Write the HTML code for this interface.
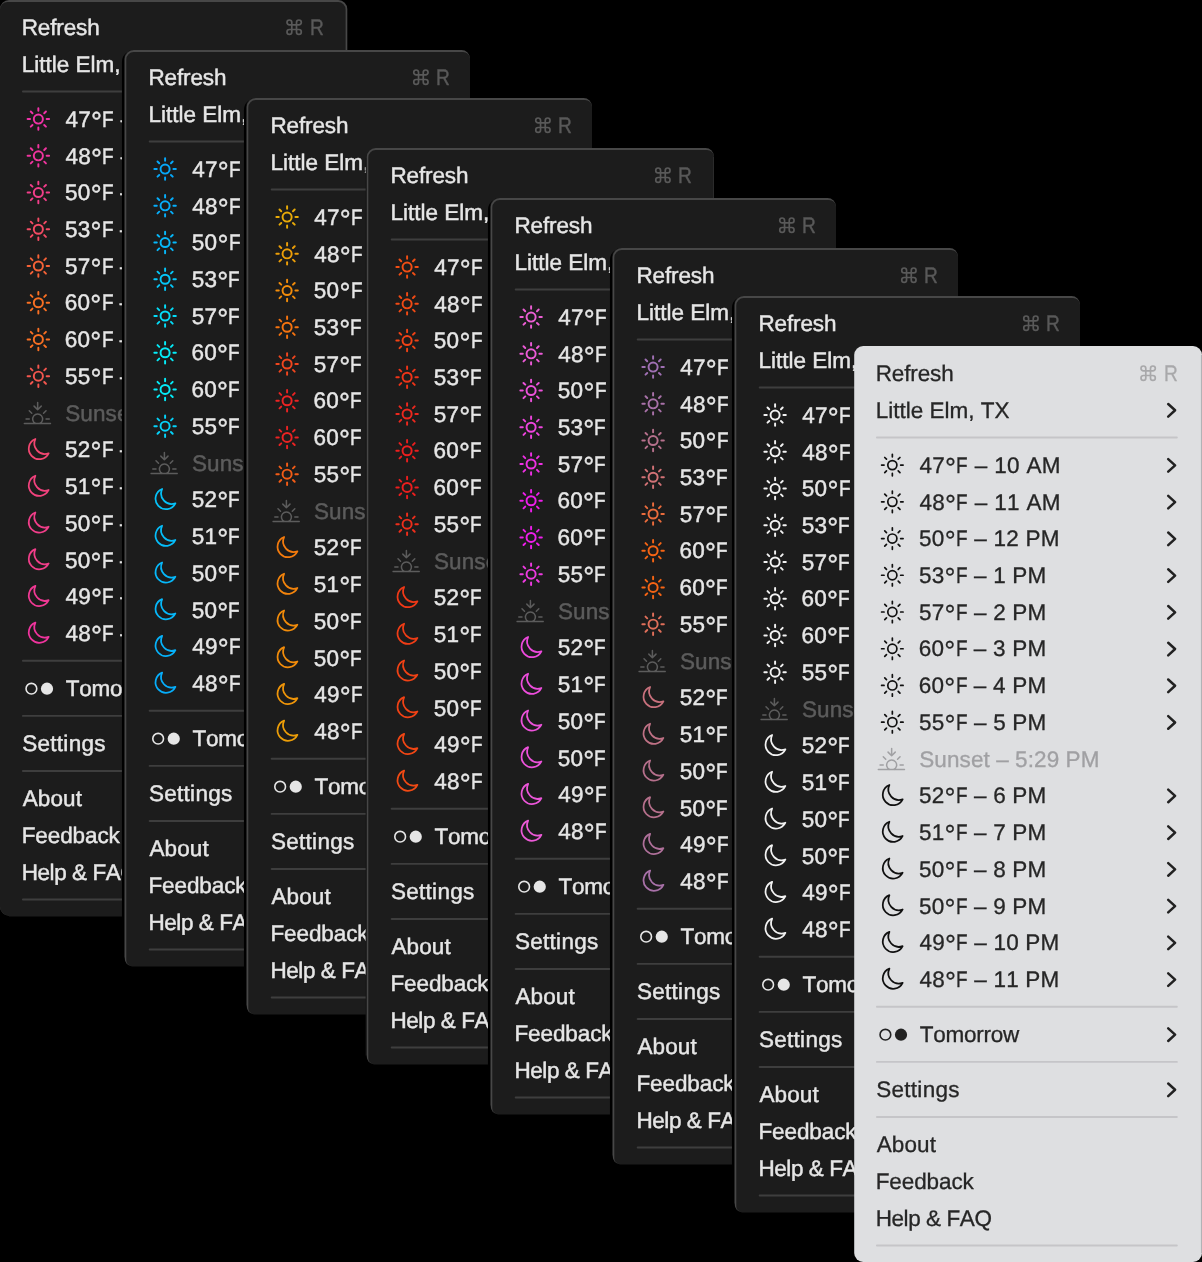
<!DOCTYPE html>
<html><head><meta charset="utf-8"><title>Menus</title>
<style>
html,body{margin:0;padding:0;background:#000;}
body{width:1202px;height:1262px;position:relative;overflow:hidden;font-family:"Liberation Sans",sans-serif;font-size:22.5px;}
.p{position:absolute;left:0;top:0;height:1262px;overflow:hidden;will-change:transform;}
.p svg{position:absolute;left:0;top:0;}
.t{position:absolute;white-space:pre;line-height:25px;height:25px;text-rendering:geometricPrecision;font-kerning:none;}
.dark .t{-webkit-text-stroke:0.45px currentColor;}
.light .t{-webkit-text-stroke:0.3px currentColor;}
.d{font-size:1.22em;line-height:0;position:relative;top:4px;}
.f{display:inline-block;transform:scaleX(0.84);transform-origin:0 50%;margin-right:-2.20px;}
</style></head><body>

<div class="p dark" style="width:348px">
<svg width="348" height="1262" viewBox="0 0 348 1262"><path d="M9.00 0H338.30A9.0 9.0 0 0 1 347.30 9.0V915.60H9.00A9.0 9.0 0 0 1 0.00 906.60V9.0A9.0 9.0 0 0 1 9.00 0Z" fill="#474747"/><path d="M7.50 2.0H338.20A7.4 7.4 0 0 1 345.60 9.40V916.60H9.00V915.60A9.0 9.0 0 0 1 0.00 906.60V9.5A7.5 7.5 0 0 1 7.50 2.0Z" fill="#1c1c1c"/><path d="M291.80 24.80H296.50V29.51H291.80ZM291.80 24.80H289.40A2.4 2.4 0 1 1 291.80 22.40ZM296.50 24.80V22.40A2.4 2.4 0 1 1 298.90 24.80ZM296.50 29.51H298.90A2.4 2.4 0 1 1 296.50 31.91ZM291.80 29.51V31.91A2.4 2.4 0 1 1 289.40 29.51Z" fill="none" stroke="#595959" stroke-width="1.7" stroke-linejoin="round"/><path d="M314.20 57.98L321.10 64.28L314.20 70.58" fill="none" stroke="#e6e6e6" stroke-width="2.5" stroke-linecap="round" stroke-linejoin="round"/><rect x="21.95" y="90.53" width="301.85" height="1.9" rx="0.9" fill="#3e3e3e"/><circle cx="38.35" cy="119.08" r="4.55" fill="none" stroke="#f032a8" stroke-width="1.95"/><path d="M46.65 119.08L49.10 119.08M44.22 124.95L45.95 126.68M38.35 127.38L38.35 129.83M32.48 124.95L30.75 126.68M30.05 119.08L27.60 119.08M32.48 113.21L30.75 111.48M38.35 110.78L38.35 108.33M44.22 113.21L45.95 111.48" stroke="#f032a8" stroke-width="1.95" stroke-linecap="round" fill="none"/><path d="M314.20 113.08L321.10 119.38L314.20 125.68" fill="none" stroke="#e6e6e6" stroke-width="2.5" stroke-linecap="round" stroke-linejoin="round"/><circle cx="38.35" cy="155.81" r="4.55" fill="none" stroke="#f0349e" stroke-width="1.95"/><path d="M46.65 155.81L49.10 155.81M44.22 161.68L45.95 163.41M38.35 164.11L38.35 166.56M32.48 161.68L30.75 163.41M30.05 155.81L27.60 155.81M32.48 149.94L30.75 148.21M38.35 147.51L38.35 145.06M44.22 149.94L45.95 148.21" stroke="#f0349e" stroke-width="1.95" stroke-linecap="round" fill="none"/><path d="M314.20 149.81L321.10 156.11L314.20 162.41" fill="none" stroke="#e6e6e6" stroke-width="2.5" stroke-linecap="round" stroke-linejoin="round"/><circle cx="38.35" cy="192.54" r="4.55" fill="none" stroke="#f23e8a" stroke-width="1.95"/><path d="M46.65 192.54L49.10 192.54M44.22 198.41L45.95 200.14M38.35 200.84L38.35 203.29M32.48 198.41L30.75 200.14M30.05 192.54L27.60 192.54M32.48 186.67L30.75 184.94M38.35 184.24L38.35 181.79M44.22 186.67L45.95 184.94" stroke="#f23e8a" stroke-width="1.95" stroke-linecap="round" fill="none"/><path d="M314.20 186.54L321.10 192.84L314.20 199.14" fill="none" stroke="#e6e6e6" stroke-width="2.5" stroke-linecap="round" stroke-linejoin="round"/><circle cx="38.35" cy="229.27" r="4.55" fill="none" stroke="#f34b64" stroke-width="1.95"/><path d="M46.65 229.27L49.10 229.27M44.22 235.14L45.95 236.87M38.35 237.57L38.35 240.02M32.48 235.14L30.75 236.87M30.05 229.27L27.60 229.27M32.48 223.40L30.75 221.67M38.35 220.97L38.35 218.52M44.22 223.40L45.95 221.67" stroke="#f34b64" stroke-width="1.95" stroke-linecap="round" fill="none"/><path d="M314.20 223.27L321.10 229.57L314.20 235.87" fill="none" stroke="#e6e6e6" stroke-width="2.5" stroke-linecap="round" stroke-linejoin="round"/><circle cx="38.35" cy="266.00" r="4.55" fill="none" stroke="#f66237" stroke-width="1.95"/><path d="M46.65 266.00L49.10 266.00M44.22 271.87L45.95 273.60M38.35 274.30L38.35 276.75M32.48 271.87L30.75 273.60M30.05 266.00L27.60 266.00M32.48 260.13L30.75 258.40M38.35 257.70L38.35 255.25M44.22 260.13L45.95 258.40" stroke="#f66237" stroke-width="1.95" stroke-linecap="round" fill="none"/><path d="M314.20 260.00L321.10 266.30L314.20 272.60" fill="none" stroke="#e6e6e6" stroke-width="2.5" stroke-linecap="round" stroke-linejoin="round"/><circle cx="38.35" cy="302.73" r="4.55" fill="none" stroke="#fa7023" stroke-width="1.95"/><path d="M46.65 302.73L49.10 302.73M44.22 308.60L45.95 310.33M38.35 311.03L38.35 313.48M32.48 308.60L30.75 310.33M30.05 302.73L27.60 302.73M32.48 296.86L30.75 295.13M38.35 294.43L38.35 291.98M44.22 296.86L45.95 295.13" stroke="#fa7023" stroke-width="1.95" stroke-linecap="round" fill="none"/><path d="M314.20 296.73L321.10 303.03L314.20 309.33" fill="none" stroke="#e6e6e6" stroke-width="2.5" stroke-linecap="round" stroke-linejoin="round"/><circle cx="38.35" cy="339.46" r="4.55" fill="none" stroke="#fa7023" stroke-width="1.95"/><path d="M46.65 339.46L49.10 339.46M44.22 345.33L45.95 347.06M38.35 347.76L38.35 350.21M32.48 345.33L30.75 347.06M30.05 339.46L27.60 339.46M32.48 333.59L30.75 331.86M38.35 331.16L38.35 328.71M44.22 333.59L45.95 331.86" stroke="#fa7023" stroke-width="1.95" stroke-linecap="round" fill="none"/><path d="M314.20 333.46L321.10 339.76L314.20 346.06" fill="none" stroke="#e6e6e6" stroke-width="2.5" stroke-linecap="round" stroke-linejoin="round"/><circle cx="38.35" cy="376.19" r="4.55" fill="none" stroke="#f4564e" stroke-width="1.95"/><path d="M46.65 376.19L49.10 376.19M44.22 382.06L45.95 383.79M38.35 384.49L38.35 386.94M32.48 382.06L30.75 383.79M30.05 376.19L27.60 376.19M32.48 370.32L30.75 368.59M38.35 367.89L38.35 365.44M44.22 370.32L45.95 368.59" stroke="#f4564e" stroke-width="1.95" stroke-linecap="round" fill="none"/><path d="M314.20 370.19L321.10 376.49L314.20 382.79" fill="none" stroke="#e6e6e6" stroke-width="2.5" stroke-linecap="round" stroke-linejoin="round"/><path d="M24.25 423.52H50.55" stroke="#5c5c5c" stroke-width="1.3" stroke-linecap="round"/><path d="M35.47 423.52A5.0 5.0 0 1 1 39.83 423.52" fill="none" stroke="#5c5c5c" stroke-width="1.5"/><path d="M26.05 418.92H29.25M46.05 418.92H49.25M29.25 410.82L31.75 413.32M46.05 410.82L43.55 413.32M37.65 402.62V409.72M34.05 406.12L37.65 409.72L41.25 406.12" fill="none" stroke="#5c5c5c" stroke-width="1.5" stroke-linecap="round" stroke-linejoin="round"/><path d="M35.40 438.99A10.45 10.45 0 1 0 48.65 453.26A10.5 10.5 0 0 1 35.40 438.99Z" fill="none" stroke="#f34771" stroke-width="1.75" stroke-linejoin="round"/><path d="M314.20 443.65L321.10 449.95L314.20 456.25" fill="none" stroke="#e6e6e6" stroke-width="2.5" stroke-linecap="round" stroke-linejoin="round"/><path d="M35.40 475.72A10.45 10.45 0 1 0 48.65 489.99A10.5 10.5 0 0 1 35.40 475.72Z" fill="none" stroke="#f2427d" stroke-width="1.75" stroke-linejoin="round"/><path d="M314.20 480.38L321.10 486.68L314.20 492.98" fill="none" stroke="#e6e6e6" stroke-width="2.5" stroke-linecap="round" stroke-linejoin="round"/><path d="M35.40 512.45A10.45 10.45 0 1 0 48.65 526.72A10.5 10.5 0 0 1 35.40 512.45Z" fill="none" stroke="#f23e8a" stroke-width="1.75" stroke-linejoin="round"/><path d="M314.20 517.11L321.10 523.41L314.20 529.71" fill="none" stroke="#e6e6e6" stroke-width="2.5" stroke-linecap="round" stroke-linejoin="round"/><path d="M35.40 549.18A10.45 10.45 0 1 0 48.65 563.45A10.5 10.5 0 0 1 35.40 549.18Z" fill="none" stroke="#f23e8a" stroke-width="1.75" stroke-linejoin="round"/><path d="M314.20 553.84L321.10 560.14L314.20 566.44" fill="none" stroke="#e6e6e6" stroke-width="2.5" stroke-linecap="round" stroke-linejoin="round"/><path d="M35.40 585.91A10.45 10.45 0 1 0 48.65 600.18A10.5 10.5 0 0 1 35.40 585.91Z" fill="none" stroke="#f13994" stroke-width="1.75" stroke-linejoin="round"/><path d="M314.20 590.57L321.10 596.87L314.20 603.17" fill="none" stroke="#e6e6e6" stroke-width="2.5" stroke-linecap="round" stroke-linejoin="round"/><path d="M35.40 622.64A10.45 10.45 0 1 0 48.65 636.91A10.5 10.5 0 0 1 35.40 622.64Z" fill="none" stroke="#f0349e" stroke-width="1.75" stroke-linejoin="round"/><path d="M314.20 627.30L321.10 633.60L314.20 639.90" fill="none" stroke="#e6e6e6" stroke-width="2.5" stroke-linecap="round" stroke-linejoin="round"/><rect x="21.95" y="659.85" width="301.85" height="1.9" rx="0.9" fill="#3e3e3e"/><circle cx="31.40" cy="688.70" r="5.35" fill="none" stroke="#e6e6e6" stroke-width="1.6"/><circle cx="47.00" cy="688.70" r="6.1" fill="#e6e6e6"/><path d="M314.20 682.40L321.10 688.70L314.20 695.00" fill="none" stroke="#e6e6e6" stroke-width="2.5" stroke-linecap="round" stroke-linejoin="round"/><rect x="21.95" y="714.94" width="301.85" height="1.9" rx="0.9" fill="#3e3e3e"/><path d="M314.20 737.49L321.10 743.79L314.20 750.09" fill="none" stroke="#e6e6e6" stroke-width="2.5" stroke-linecap="round" stroke-linejoin="round"/><rect x="21.95" y="770.04" width="301.85" height="1.9" rx="0.9" fill="#3e3e3e"/><rect x="21.95" y="898.59" width="301.85" height="1.9" rx="0.9" fill="#3e3e3e"/></svg>
<div class="t" style="left:21.65px;top:15.00px;color:#e6e6e6;letter-spacing:-0.113px">Refresh</div>
<div class="t" style="left:309.65px;top:15.00px;color:#595959;transform:scaleX(0.85);transform-origin:0 0">R</div>
<div class="t" style="left:21.65px;top:52.00px;color:#e6e6e6;letter-spacing:0.003px">Little Elm, TX</div>
<div class="t" style="left:65.48px;top:107.00px;color:#e6e6e6;letter-spacing:0.306px">47<span class="d">°</span><span class="f">F</span> – 10 AM</div>
<div class="t" style="left:65.48px;top:144.00px;color:#e6e6e6;letter-spacing:0.306px">48<span class="d">°</span><span class="f">F</span> – 11 AM</div>
<div class="t" style="left:65.10px;top:180.00px;color:#e6e6e6;letter-spacing:0.259px">50<span class="d">°</span><span class="f">F</span> – 12 PM</div>
<div class="t" style="left:65.10px;top:217.00px;color:#e6e6e6;letter-spacing:0.207px">53<span class="d">°</span><span class="f">F</span> – 1 PM</div>
<div class="t" style="left:65.10px;top:254.00px;color:#e6e6e6;letter-spacing:0.207px">57<span class="d">°</span><span class="f">F</span> – 2 PM</div>
<div class="t" style="left:64.86px;top:290.00px;color:#e6e6e6;letter-spacing:0.231px">60<span class="d">°</span><span class="f">F</span> – 3 PM</div>
<div class="t" style="left:64.86px;top:327.00px;color:#e6e6e6;letter-spacing:0.231px">60<span class="d">°</span><span class="f">F</span> – 4 PM</div>
<div class="t" style="left:65.10px;top:364.00px;color:#e6e6e6;letter-spacing:0.207px">55<span class="d">°</span><span class="f">F</span> – 5 PM</div>
<div class="t" style="left:65.28px;top:401.00px;color:#5c5c5c;letter-spacing:0.087px">Sunset – 5:29 PM</div>
<div class="t" style="left:65.10px;top:437.00px;color:#e6e6e6;letter-spacing:0.207px">52<span class="d">°</span><span class="f">F</span> – 6 PM</div>
<div class="t" style="left:65.10px;top:474.00px;color:#e6e6e6;letter-spacing:0.207px">51<span class="d">°</span><span class="f">F</span> – 7 PM</div>
<div class="t" style="left:65.10px;top:511.00px;color:#e6e6e6;letter-spacing:0.207px">50<span class="d">°</span><span class="f">F</span> – 8 PM</div>
<div class="t" style="left:65.10px;top:548.00px;color:#e6e6e6;letter-spacing:0.207px">50<span class="d">°</span><span class="f">F</span> – 9 PM</div>
<div class="t" style="left:65.48px;top:584.00px;color:#e6e6e6;letter-spacing:0.197px">49<span class="d">°</span><span class="f">F</span> – 10 PM</div>
<div class="t" style="left:65.48px;top:621.00px;color:#e6e6e6;letter-spacing:0.197px">48<span class="d">°</span><span class="f">F</span> – 11 PM</div>
<div class="t" style="left:65.74px;top:676.00px;color:#e6e6e6;letter-spacing:-0.252px">Tomorrow</div>
<div class="t" style="left:22.18px;top:731.00px;color:#e6e6e6;letter-spacing:0.291px">Settings</div>
<div class="t" style="left:22.76px;top:786.00px;color:#e6e6e6;letter-spacing:0.102px">About</div>
<div class="t" style="left:21.65px;top:823.00px;color:#e6e6e6;letter-spacing:-0.085px">Feedback</div>
<div class="t" style="left:21.65px;top:860.00px;color:#e6e6e6;letter-spacing:-0.413px">Help &amp; FAQ</div>
</div>
<div class="p dark" style="width:470px">
<svg width="470" height="1262" viewBox="0 0 470 1262"><path d="M136.80 50.30A11.85 11.85 0 0 0 121.95 61.80V960.60H124.00V59.00A9.0 9.0 0 0 1 133.80 50Z" fill="#000"/><rect x="124.00" y="61.00" width="1.4" height="896.60" fill="#1c1c1c"/><path d="M133.80 50H461.50A8.5 8.5 0 0 1 470.00 58.5V965.60H131.30A6.5 6.5 0 0 1 124.80 959.10V59.0A9.0 9.0 0 0 1 133.80 50Z" fill="#474747"/><path d="M133.70 52.0H463.00A7.0 7.0 0 0 1 470.00 58.50V966.60H131.30V965.60A5.0 5.0 0 0 1 126.30 960.60V59.4A7.4 7.4 0 0 1 133.70 52.0Z" fill="#1c1c1c"/><path d="M418.55 74.81H423.25V79.50H418.55ZM418.55 74.81H416.15A2.4 2.4 0 1 1 418.55 72.41ZM423.25 74.81V72.41A2.4 2.4 0 1 1 425.65 74.81ZM423.25 79.50H425.65A2.4 2.4 0 1 1 423.25 81.91ZM418.55 79.50V81.91A2.4 2.4 0 1 1 416.15 79.50Z" fill="none" stroke="#595959" stroke-width="1.7" stroke-linejoin="round"/><path d="M440.95 107.98L447.85 114.28L440.95 120.58" fill="none" stroke="#e6e6e6" stroke-width="2.5" stroke-linecap="round" stroke-linejoin="round"/><rect x="148.70" y="140.53" width="301.85" height="1.9" rx="0.9" fill="#3e3e3e"/><circle cx="165.10" cy="169.08" r="4.55" fill="none" stroke="#06a8fa" stroke-width="1.95"/><path d="M173.40 169.08L175.85 169.08M170.97 174.95L172.70 176.68M165.10 177.38L165.10 179.83M159.23 174.95L157.50 176.68M156.80 169.08L154.35 169.08M159.23 163.21L157.50 161.48M165.10 160.78L165.10 158.33M170.97 163.21L172.70 161.48" stroke="#06a8fa" stroke-width="1.95" stroke-linecap="round" fill="none"/><path d="M440.95 163.08L447.85 169.38L440.95 175.68" fill="none" stroke="#e6e6e6" stroke-width="2.5" stroke-linecap="round" stroke-linejoin="round"/><circle cx="165.10" cy="205.81" r="4.55" fill="none" stroke="#06adfa" stroke-width="1.95"/><path d="M173.40 205.81L175.85 205.81M170.97 211.68L172.70 213.41M165.10 214.11L165.10 216.56M159.23 211.68L157.50 213.41M156.80 205.81L154.35 205.81M159.23 199.94L157.50 198.21M165.10 197.51L165.10 195.06M170.97 199.94L172.70 198.21" stroke="#06adfa" stroke-width="1.95" stroke-linecap="round" fill="none"/><path d="M440.95 199.81L447.85 206.11L440.95 212.41" fill="none" stroke="#e6e6e6" stroke-width="2.5" stroke-linecap="round" stroke-linejoin="round"/><circle cx="165.10" cy="242.54" r="4.55" fill="none" stroke="#06b8fa" stroke-width="1.95"/><path d="M173.40 242.54L175.85 242.54M170.97 248.41L172.70 250.14M165.10 250.84L165.10 253.29M159.23 248.41L157.50 250.14M156.80 242.54L154.35 242.54M159.23 236.67L157.50 234.94M165.10 234.24L165.10 231.79M170.97 236.67L172.70 234.94" stroke="#06b8fa" stroke-width="1.95" stroke-linecap="round" fill="none"/><path d="M440.95 236.54L447.85 242.84L440.95 249.14" fill="none" stroke="#e6e6e6" stroke-width="2.5" stroke-linecap="round" stroke-linejoin="round"/><circle cx="165.10" cy="279.27" r="4.55" fill="none" stroke="#05c7f9" stroke-width="1.95"/><path d="M173.40 279.27L175.85 279.27M170.97 285.14L172.70 286.87M165.10 287.57L165.10 290.02M159.23 285.14L157.50 286.87M156.80 279.27L154.35 279.27M159.23 273.40L157.50 271.67M165.10 270.97L165.10 268.52M170.97 273.40L172.70 271.67" stroke="#05c7f9" stroke-width="1.95" stroke-linecap="round" fill="none"/><path d="M440.95 273.27L447.85 279.57L440.95 285.87" fill="none" stroke="#e6e6e6" stroke-width="2.5" stroke-linecap="round" stroke-linejoin="round"/><circle cx="165.10" cy="316.00" r="4.55" fill="none" stroke="#04dcf8" stroke-width="1.95"/><path d="M173.40 316.00L175.85 316.00M170.97 321.87L172.70 323.60M165.10 324.30L165.10 326.75M159.23 321.87L157.50 323.60M156.80 316.00L154.35 316.00M159.23 310.13L157.50 308.40M165.10 307.70L165.10 305.25M170.97 310.13L172.70 308.40" stroke="#04dcf8" stroke-width="1.95" stroke-linecap="round" fill="none"/><path d="M440.95 310.00L447.85 316.30L440.95 322.60" fill="none" stroke="#e6e6e6" stroke-width="2.5" stroke-linecap="round" stroke-linejoin="round"/><circle cx="165.10" cy="352.73" r="4.55" fill="none" stroke="#04ecf8" stroke-width="1.95"/><path d="M173.40 352.73L175.85 352.73M170.97 358.60L172.70 360.33M165.10 361.03L165.10 363.48M159.23 358.60L157.50 360.33M156.80 352.73L154.35 352.73M159.23 346.86L157.50 345.13M165.10 344.43L165.10 341.98M170.97 346.86L172.70 345.13" stroke="#04ecf8" stroke-width="1.95" stroke-linecap="round" fill="none"/><path d="M440.95 346.73L447.85 353.03L440.95 359.33" fill="none" stroke="#e6e6e6" stroke-width="2.5" stroke-linecap="round" stroke-linejoin="round"/><circle cx="165.10" cy="389.46" r="4.55" fill="none" stroke="#04ecf8" stroke-width="1.95"/><path d="M173.40 389.46L175.85 389.46M170.97 395.33L172.70 397.06M165.10 397.76L165.10 400.21M159.23 395.33L157.50 397.06M156.80 389.46L154.35 389.46M159.23 383.59L157.50 381.86M165.10 381.16L165.10 378.71M170.97 383.59L172.70 381.86" stroke="#04ecf8" stroke-width="1.95" stroke-linecap="round" fill="none"/><path d="M440.95 383.46L447.85 389.76L440.95 396.06" fill="none" stroke="#e6e6e6" stroke-width="2.5" stroke-linecap="round" stroke-linejoin="round"/><circle cx="165.10" cy="426.19" r="4.55" fill="none" stroke="#05d2f9" stroke-width="1.95"/><path d="M173.40 426.19L175.85 426.19M170.97 432.06L172.70 433.79M165.10 434.49L165.10 436.94M159.23 432.06L157.50 433.79M156.80 426.19L154.35 426.19M159.23 420.32L157.50 418.59M165.10 417.89L165.10 415.44M170.97 420.32L172.70 418.59" stroke="#05d2f9" stroke-width="1.95" stroke-linecap="round" fill="none"/><path d="M440.95 420.19L447.85 426.49L440.95 432.79" fill="none" stroke="#e6e6e6" stroke-width="2.5" stroke-linecap="round" stroke-linejoin="round"/><path d="M151.00 473.52H177.30" stroke="#5c5c5c" stroke-width="1.3" stroke-linecap="round"/><path d="M162.22 473.52A5.0 5.0 0 1 1 166.58 473.52" fill="none" stroke="#5c5c5c" stroke-width="1.5"/><path d="M152.80 468.92H156.00M172.80 468.92H176.00M156.00 460.82L158.50 463.32M172.80 460.82L170.30 463.32M164.40 452.62V459.72M160.80 456.12L164.40 459.72L168.00 456.12" fill="none" stroke="#5c5c5c" stroke-width="1.5" stroke-linecap="round" stroke-linejoin="round"/><path d="M162.15 488.99A10.45 10.45 0 1 0 175.40 503.26A10.5 10.5 0 0 1 162.15 488.99Z" fill="none" stroke="#05c2f9" stroke-width="1.75" stroke-linejoin="round"/><path d="M440.95 493.65L447.85 499.95L440.95 506.25" fill="none" stroke="#e6e6e6" stroke-width="2.5" stroke-linecap="round" stroke-linejoin="round"/><path d="M162.15 525.72A10.45 10.45 0 1 0 175.40 539.99A10.5 10.5 0 0 1 162.15 525.72Z" fill="none" stroke="#05bdf9" stroke-width="1.75" stroke-linejoin="round"/><path d="M440.95 530.38L447.85 536.68L440.95 542.98" fill="none" stroke="#e6e6e6" stroke-width="2.5" stroke-linecap="round" stroke-linejoin="round"/><path d="M162.15 562.45A10.45 10.45 0 1 0 175.40 576.72A10.5 10.5 0 0 1 162.15 562.45Z" fill="none" stroke="#06b8fa" stroke-width="1.75" stroke-linejoin="round"/><path d="M440.95 567.11L447.85 573.41L440.95 579.71" fill="none" stroke="#e6e6e6" stroke-width="2.5" stroke-linecap="round" stroke-linejoin="round"/><path d="M162.15 599.18A10.45 10.45 0 1 0 175.40 613.45A10.5 10.5 0 0 1 162.15 599.18Z" fill="none" stroke="#06b8fa" stroke-width="1.75" stroke-linejoin="round"/><path d="M440.95 603.84L447.85 610.14L440.95 616.44" fill="none" stroke="#e6e6e6" stroke-width="2.5" stroke-linecap="round" stroke-linejoin="round"/><path d="M162.15 635.91A10.45 10.45 0 1 0 175.40 650.18A10.5 10.5 0 0 1 162.15 635.91Z" fill="none" stroke="#06b2fa" stroke-width="1.75" stroke-linejoin="round"/><path d="M440.95 640.57L447.85 646.87L440.95 653.17" fill="none" stroke="#e6e6e6" stroke-width="2.5" stroke-linecap="round" stroke-linejoin="round"/><path d="M162.15 672.64A10.45 10.45 0 1 0 175.40 686.91A10.5 10.5 0 0 1 162.15 672.64Z" fill="none" stroke="#06adfa" stroke-width="1.75" stroke-linejoin="round"/><path d="M440.95 677.30L447.85 683.60L440.95 689.90" fill="none" stroke="#e6e6e6" stroke-width="2.5" stroke-linecap="round" stroke-linejoin="round"/><rect x="148.70" y="709.85" width="301.85" height="1.9" rx="0.9" fill="#3e3e3e"/><circle cx="158.15" cy="738.70" r="5.35" fill="none" stroke="#e6e6e6" stroke-width="1.6"/><circle cx="173.75" cy="738.70" r="6.1" fill="#e6e6e6"/><path d="M440.95 732.40L447.85 738.70L440.95 745.00" fill="none" stroke="#e6e6e6" stroke-width="2.5" stroke-linecap="round" stroke-linejoin="round"/><rect x="148.70" y="764.94" width="301.85" height="1.9" rx="0.9" fill="#3e3e3e"/><path d="M440.95 787.49L447.85 793.79L440.95 800.09" fill="none" stroke="#e6e6e6" stroke-width="2.5" stroke-linecap="round" stroke-linejoin="round"/><rect x="148.70" y="820.04" width="301.85" height="1.9" rx="0.9" fill="#3e3e3e"/><rect x="148.70" y="948.59" width="301.85" height="1.9" rx="0.9" fill="#3e3e3e"/></svg>
<div class="t" style="left:148.40px;top:65.00px;color:#e6e6e6;letter-spacing:-0.113px">Refresh</div>
<div class="t" style="left:436.40px;top:65.00px;color:#595959;transform:scaleX(0.85);transform-origin:0 0">R</div>
<div class="t" style="left:148.40px;top:102.00px;color:#e6e6e6;letter-spacing:0.003px">Little Elm, TX</div>
<div class="t" style="left:192.23px;top:157.00px;color:#e6e6e6;letter-spacing:0.306px">47<span class="d">°</span><span class="f">F</span> – 10 AM</div>
<div class="t" style="left:192.23px;top:194.00px;color:#e6e6e6;letter-spacing:0.306px">48<span class="d">°</span><span class="f">F</span> – 11 AM</div>
<div class="t" style="left:191.85px;top:230.00px;color:#e6e6e6;letter-spacing:0.259px">50<span class="d">°</span><span class="f">F</span> – 12 PM</div>
<div class="t" style="left:191.85px;top:267.00px;color:#e6e6e6;letter-spacing:0.207px">53<span class="d">°</span><span class="f">F</span> – 1 PM</div>
<div class="t" style="left:191.85px;top:304.00px;color:#e6e6e6;letter-spacing:0.207px">57<span class="d">°</span><span class="f">F</span> – 2 PM</div>
<div class="t" style="left:191.61px;top:340.00px;color:#e6e6e6;letter-spacing:0.231px">60<span class="d">°</span><span class="f">F</span> – 3 PM</div>
<div class="t" style="left:191.61px;top:377.00px;color:#e6e6e6;letter-spacing:0.231px">60<span class="d">°</span><span class="f">F</span> – 4 PM</div>
<div class="t" style="left:191.85px;top:414.00px;color:#e6e6e6;letter-spacing:0.207px">55<span class="d">°</span><span class="f">F</span> – 5 PM</div>
<div class="t" style="left:192.03px;top:451.00px;color:#5c5c5c;letter-spacing:0.087px">Sunset – 5:29 PM</div>
<div class="t" style="left:191.85px;top:487.00px;color:#e6e6e6;letter-spacing:0.207px">52<span class="d">°</span><span class="f">F</span> – 6 PM</div>
<div class="t" style="left:191.85px;top:524.00px;color:#e6e6e6;letter-spacing:0.207px">51<span class="d">°</span><span class="f">F</span> – 7 PM</div>
<div class="t" style="left:191.85px;top:561.00px;color:#e6e6e6;letter-spacing:0.207px">50<span class="d">°</span><span class="f">F</span> – 8 PM</div>
<div class="t" style="left:191.85px;top:598.00px;color:#e6e6e6;letter-spacing:0.207px">50<span class="d">°</span><span class="f">F</span> – 9 PM</div>
<div class="t" style="left:192.23px;top:634.00px;color:#e6e6e6;letter-spacing:0.197px">49<span class="d">°</span><span class="f">F</span> – 10 PM</div>
<div class="t" style="left:192.23px;top:671.00px;color:#e6e6e6;letter-spacing:0.197px">48<span class="d">°</span><span class="f">F</span> – 11 PM</div>
<div class="t" style="left:192.49px;top:726.00px;color:#e6e6e6;letter-spacing:-0.252px">Tomorrow</div>
<div class="t" style="left:148.93px;top:781.00px;color:#e6e6e6;letter-spacing:0.291px">Settings</div>
<div class="t" style="left:149.51px;top:836.00px;color:#e6e6e6;letter-spacing:0.102px">About</div>
<div class="t" style="left:148.40px;top:873.00px;color:#e6e6e6;letter-spacing:-0.085px">Feedback</div>
<div class="t" style="left:148.40px;top:910.00px;color:#e6e6e6;letter-spacing:-0.413px">Help &amp; FAQ</div>
</div>
<div class="p dark" style="width:592px">
<svg width="592" height="1262" viewBox="0 0 592 1262"><path d="M258.80 98.30A11.85 11.85 0 0 0 243.95 109.80V1008.60H246.00V107.00A9.0 9.0 0 0 1 255.80 98Z" fill="#000"/><rect x="246.00" y="109.00" width="1.4" height="896.60" fill="#1c1c1c"/><path d="M255.80 98H583.50A8.5 8.5 0 0 1 592.00 106.5V1013.60H253.30A6.5 6.5 0 0 1 246.80 1007.10V107.0A9.0 9.0 0 0 1 255.80 98Z" fill="#474747"/><path d="M255.70 100.0H585.00A7.0 7.0 0 0 1 592.00 106.50V1014.60H253.30V1013.60A5.0 5.0 0 0 1 248.30 1008.60V107.4A7.4 7.4 0 0 1 255.70 100.0Z" fill="#1c1c1c"/><path d="M540.55 122.81H545.25V127.50H540.55ZM540.55 122.81H538.15A2.4 2.4 0 1 1 540.55 120.41ZM545.25 122.81V120.41A2.4 2.4 0 1 1 547.65 122.81ZM545.25 127.50H547.65A2.4 2.4 0 1 1 545.25 129.91ZM540.55 127.50V129.91A2.4 2.4 0 1 1 538.15 127.50Z" fill="none" stroke="#595959" stroke-width="1.7" stroke-linejoin="round"/><path d="M562.95 155.99L569.85 162.29L562.95 168.59" fill="none" stroke="#e6e6e6" stroke-width="2.5" stroke-linecap="round" stroke-linejoin="round"/><rect x="270.70" y="188.53" width="301.85" height="1.9" rx="0.9" fill="#3e3e3e"/><circle cx="287.10" cy="217.08" r="4.55" fill="none" stroke="#e8aa08" stroke-width="1.95"/><path d="M295.40 217.08L297.85 217.08M292.97 222.95L294.70 224.68M287.10 225.38L287.10 227.83M281.23 222.95L279.50 224.68M278.80 217.08L276.35 217.08M281.23 211.21L279.50 209.48M287.10 208.78L287.10 206.33M292.97 211.21L294.70 209.48" stroke="#e8aa08" stroke-width="1.95" stroke-linecap="round" fill="none"/><path d="M562.95 211.08L569.85 217.38L562.95 223.68" fill="none" stroke="#e6e6e6" stroke-width="2.5" stroke-linecap="round" stroke-linejoin="round"/><circle cx="287.10" cy="253.81" r="4.55" fill="none" stroke="#ec9e08" stroke-width="1.95"/><path d="M295.40 253.81L297.85 253.81M292.97 259.68L294.70 261.41M287.10 262.11L287.10 264.56M281.23 259.68L279.50 261.41M278.80 253.81L276.35 253.81M281.23 247.94L279.50 246.21M287.10 245.51L287.10 243.06M292.97 247.94L294.70 246.21" stroke="#ec9e08" stroke-width="1.95" stroke-linecap="round" fill="none"/><path d="M562.95 247.81L569.85 254.11L562.95 260.41" fill="none" stroke="#e6e6e6" stroke-width="2.5" stroke-linecap="round" stroke-linejoin="round"/><circle cx="287.10" cy="290.54" r="4.55" fill="none" stroke="#f28c0a" stroke-width="1.95"/><path d="M295.40 290.54L297.85 290.54M292.97 296.41L294.70 298.14M287.10 298.84L287.10 301.29M281.23 296.41L279.50 298.14M278.80 290.54L276.35 290.54M281.23 284.67L279.50 282.94M287.10 282.24L287.10 279.79M292.97 284.67L294.70 282.94" stroke="#f28c0a" stroke-width="1.95" stroke-linecap="round" fill="none"/><path d="M562.95 284.54L569.85 290.84L562.95 297.14" fill="none" stroke="#e6e6e6" stroke-width="2.5" stroke-linecap="round" stroke-linejoin="round"/><circle cx="287.10" cy="327.27" r="4.55" fill="none" stroke="#f5730f" stroke-width="1.95"/><path d="M295.40 327.27L297.85 327.27M292.97 333.14L294.70 334.87M287.10 335.57L287.10 338.02M281.23 333.14L279.50 334.87M278.80 327.27L276.35 327.27M281.23 321.40L279.50 319.67M287.10 318.97L287.10 316.52M292.97 321.40L294.70 319.67" stroke="#f5730f" stroke-width="1.95" stroke-linecap="round" fill="none"/><path d="M562.95 321.27L569.85 327.57L562.95 333.87" fill="none" stroke="#e6e6e6" stroke-width="2.5" stroke-linecap="round" stroke-linejoin="round"/><circle cx="287.10" cy="364.00" r="4.55" fill="none" stroke="#f0461e" stroke-width="1.95"/><path d="M295.40 364.00L297.85 364.00M292.97 369.87L294.70 371.60M287.10 372.30L287.10 374.75M281.23 369.87L279.50 371.60M278.80 364.00L276.35 364.00M281.23 358.13L279.50 356.40M287.10 355.70L287.10 353.25M292.97 358.13L294.70 356.40" stroke="#f0461e" stroke-width="1.95" stroke-linecap="round" fill="none"/><path d="M562.95 358.00L569.85 364.30L562.95 370.60" fill="none" stroke="#e6e6e6" stroke-width="2.5" stroke-linecap="round" stroke-linejoin="round"/><circle cx="287.10" cy="400.73" r="4.55" fill="none" stroke="#eb2323" stroke-width="1.95"/><path d="M295.40 400.73L297.85 400.73M292.97 406.60L294.70 408.33M287.10 409.03L287.10 411.48M281.23 406.60L279.50 408.33M278.80 400.73L276.35 400.73M281.23 394.86L279.50 393.13M287.10 392.43L287.10 389.98M292.97 394.86L294.70 393.13" stroke="#eb2323" stroke-width="1.95" stroke-linecap="round" fill="none"/><path d="M562.95 394.73L569.85 401.03L562.95 407.33" fill="none" stroke="#e6e6e6" stroke-width="2.5" stroke-linecap="round" stroke-linejoin="round"/><circle cx="287.10" cy="437.46" r="4.55" fill="none" stroke="#eb2323" stroke-width="1.95"/><path d="M295.40 437.46L297.85 437.46M292.97 443.33L294.70 445.06M287.10 445.76L287.10 448.21M281.23 443.33L279.50 445.06M278.80 437.46L276.35 437.46M281.23 431.59L279.50 429.86M287.10 429.16L287.10 426.71M292.97 431.59L294.70 429.86" stroke="#eb2323" stroke-width="1.95" stroke-linecap="round" fill="none"/><path d="M562.95 431.46L569.85 437.76L562.95 444.06" fill="none" stroke="#e6e6e6" stroke-width="2.5" stroke-linecap="round" stroke-linejoin="round"/><circle cx="287.10" cy="474.19" r="4.55" fill="none" stroke="#f35c16" stroke-width="1.95"/><path d="M295.40 474.19L297.85 474.19M292.97 480.06L294.70 481.79M287.10 482.49L287.10 484.94M281.23 480.06L279.50 481.79M278.80 474.19L276.35 474.19M281.23 468.32L279.50 466.59M287.10 465.89L287.10 463.44M292.97 468.32L294.70 466.59" stroke="#f35c16" stroke-width="1.95" stroke-linecap="round" fill="none"/><path d="M562.95 468.19L569.85 474.49L562.95 480.79" fill="none" stroke="#e6e6e6" stroke-width="2.5" stroke-linecap="round" stroke-linejoin="round"/><path d="M273.00 521.52H299.30" stroke="#5c5c5c" stroke-width="1.3" stroke-linecap="round"/><path d="M284.22 521.52A5.0 5.0 0 1 1 288.58 521.52" fill="none" stroke="#5c5c5c" stroke-width="1.5"/><path d="M274.80 516.92H278.00M294.80 516.92H298.00M278.00 508.82L280.50 511.32M294.80 508.82L292.30 511.32M286.40 500.62V507.72M282.80 504.12L286.40 507.72L290.00 504.12" fill="none" stroke="#5c5c5c" stroke-width="1.5" stroke-linecap="round" stroke-linejoin="round"/><path d="M284.15 536.99A10.45 10.45 0 1 0 297.40 551.26A10.5 10.5 0 0 1 284.15 536.99Z" fill="none" stroke="#f47b0d" stroke-width="1.75" stroke-linejoin="round"/><path d="M562.95 541.65L569.85 547.95L562.95 554.25" fill="none" stroke="#e6e6e6" stroke-width="2.5" stroke-linecap="round" stroke-linejoin="round"/><path d="M284.15 573.72A10.45 10.45 0 1 0 297.40 587.99A10.5 10.5 0 0 1 284.15 573.72Z" fill="none" stroke="#f3840c" stroke-width="1.75" stroke-linejoin="round"/><path d="M562.95 578.38L569.85 584.68L562.95 590.98" fill="none" stroke="#e6e6e6" stroke-width="2.5" stroke-linecap="round" stroke-linejoin="round"/><path d="M284.15 610.45A10.45 10.45 0 1 0 297.40 624.72A10.5 10.5 0 0 1 284.15 610.45Z" fill="none" stroke="#f28c0a" stroke-width="1.75" stroke-linejoin="round"/><path d="M562.95 615.11L569.85 621.41L562.95 627.71" fill="none" stroke="#e6e6e6" stroke-width="2.5" stroke-linecap="round" stroke-linejoin="round"/><path d="M284.15 647.18A10.45 10.45 0 1 0 297.40 661.45A10.5 10.5 0 0 1 284.15 647.18Z" fill="none" stroke="#f28c0a" stroke-width="1.75" stroke-linejoin="round"/><path d="M562.95 651.84L569.85 658.14L562.95 664.44" fill="none" stroke="#e6e6e6" stroke-width="2.5" stroke-linecap="round" stroke-linejoin="round"/><path d="M284.15 683.91A10.45 10.45 0 1 0 297.40 698.18A10.5 10.5 0 0 1 284.15 683.91Z" fill="none" stroke="#ef9509" stroke-width="1.75" stroke-linejoin="round"/><path d="M562.95 688.57L569.85 694.87L562.95 701.17" fill="none" stroke="#e6e6e6" stroke-width="2.5" stroke-linecap="round" stroke-linejoin="round"/><path d="M284.15 720.64A10.45 10.45 0 1 0 297.40 734.91A10.5 10.5 0 0 1 284.15 720.64Z" fill="none" stroke="#ec9e08" stroke-width="1.75" stroke-linejoin="round"/><path d="M562.95 725.30L569.85 731.60L562.95 737.90" fill="none" stroke="#e6e6e6" stroke-width="2.5" stroke-linecap="round" stroke-linejoin="round"/><rect x="270.70" y="757.85" width="301.85" height="1.9" rx="0.9" fill="#3e3e3e"/><circle cx="280.15" cy="786.70" r="5.35" fill="none" stroke="#e6e6e6" stroke-width="1.6"/><circle cx="295.75" cy="786.70" r="6.1" fill="#e6e6e6"/><path d="M562.95 780.40L569.85 786.70L562.95 793.00" fill="none" stroke="#e6e6e6" stroke-width="2.5" stroke-linecap="round" stroke-linejoin="round"/><rect x="270.70" y="812.94" width="301.85" height="1.9" rx="0.9" fill="#3e3e3e"/><path d="M562.95 835.49L569.85 841.79L562.95 848.09" fill="none" stroke="#e6e6e6" stroke-width="2.5" stroke-linecap="round" stroke-linejoin="round"/><rect x="270.70" y="868.04" width="301.85" height="1.9" rx="0.9" fill="#3e3e3e"/><rect x="270.70" y="996.59" width="301.85" height="1.9" rx="0.9" fill="#3e3e3e"/></svg>
<div class="t" style="left:270.40px;top:113.00px;color:#e6e6e6;letter-spacing:-0.113px">Refresh</div>
<div class="t" style="left:558.40px;top:113.00px;color:#595959;transform:scaleX(0.85);transform-origin:0 0">R</div>
<div class="t" style="left:270.40px;top:150.00px;color:#e6e6e6;letter-spacing:0.003px">Little Elm, TX</div>
<div class="t" style="left:314.23px;top:205.00px;color:#e6e6e6;letter-spacing:0.306px">47<span class="d">°</span><span class="f">F</span> – 10 AM</div>
<div class="t" style="left:314.23px;top:242.00px;color:#e6e6e6;letter-spacing:0.306px">48<span class="d">°</span><span class="f">F</span> – 11 AM</div>
<div class="t" style="left:313.85px;top:278.00px;color:#e6e6e6;letter-spacing:0.259px">50<span class="d">°</span><span class="f">F</span> – 12 PM</div>
<div class="t" style="left:313.85px;top:315.00px;color:#e6e6e6;letter-spacing:0.207px">53<span class="d">°</span><span class="f">F</span> – 1 PM</div>
<div class="t" style="left:313.85px;top:352.00px;color:#e6e6e6;letter-spacing:0.207px">57<span class="d">°</span><span class="f">F</span> – 2 PM</div>
<div class="t" style="left:313.61px;top:388.00px;color:#e6e6e6;letter-spacing:0.231px">60<span class="d">°</span><span class="f">F</span> – 3 PM</div>
<div class="t" style="left:313.61px;top:425.00px;color:#e6e6e6;letter-spacing:0.231px">60<span class="d">°</span><span class="f">F</span> – 4 PM</div>
<div class="t" style="left:313.85px;top:462.00px;color:#e6e6e6;letter-spacing:0.207px">55<span class="d">°</span><span class="f">F</span> – 5 PM</div>
<div class="t" style="left:314.03px;top:499.00px;color:#5c5c5c;letter-spacing:0.087px">Sunset – 5:29 PM</div>
<div class="t" style="left:313.85px;top:535.00px;color:#e6e6e6;letter-spacing:0.207px">52<span class="d">°</span><span class="f">F</span> – 6 PM</div>
<div class="t" style="left:313.85px;top:572.00px;color:#e6e6e6;letter-spacing:0.207px">51<span class="d">°</span><span class="f">F</span> – 7 PM</div>
<div class="t" style="left:313.85px;top:609.00px;color:#e6e6e6;letter-spacing:0.207px">50<span class="d">°</span><span class="f">F</span> – 8 PM</div>
<div class="t" style="left:313.85px;top:646.00px;color:#e6e6e6;letter-spacing:0.207px">50<span class="d">°</span><span class="f">F</span> – 9 PM</div>
<div class="t" style="left:314.23px;top:682.00px;color:#e6e6e6;letter-spacing:0.197px">49<span class="d">°</span><span class="f">F</span> – 10 PM</div>
<div class="t" style="left:314.23px;top:719.00px;color:#e6e6e6;letter-spacing:0.197px">48<span class="d">°</span><span class="f">F</span> – 11 PM</div>
<div class="t" style="left:314.49px;top:774.00px;color:#e6e6e6;letter-spacing:-0.252px">Tomorrow</div>
<div class="t" style="left:270.93px;top:829.00px;color:#e6e6e6;letter-spacing:0.291px">Settings</div>
<div class="t" style="left:271.51px;top:884.00px;color:#e6e6e6;letter-spacing:0.102px">About</div>
<div class="t" style="left:270.40px;top:921.00px;color:#e6e6e6;letter-spacing:-0.085px">Feedback</div>
<div class="t" style="left:270.40px;top:958.00px;color:#e6e6e6;letter-spacing:-0.413px">Help &amp; FAQ</div>
</div>
<div class="p dark" style="width:714px">
<svg width="714" height="1262" viewBox="0 0 714 1262"><rect x="365.60" y="158.00" width="1.4" height="897.60" fill="#171717"/><path d="M375.80 148H705.50A8.5 8.5 0 0 1 714.00 156.5V1063.60H373.30A6.5 6.5 0 0 1 366.80 1057.10V157.0A9.0 9.0 0 0 1 375.80 148Z" fill="#474747"/><path d="M375.70 150.0H707.00A7.0 7.0 0 0 1 714.00 156.50V1064.60H373.30V1063.60A5.0 5.0 0 0 1 368.30 1058.60V157.4A7.4 7.4 0 0 1 375.70 150.0Z" fill="#1c1c1c"/><path d="M713.50 157V208" stroke="#2b2b2b" stroke-width="1"/><path d="M660.55 172.81H665.25V177.50H660.55ZM660.55 172.81H658.15A2.4 2.4 0 1 1 660.55 170.41ZM665.25 172.81V170.41A2.4 2.4 0 1 1 667.65 172.81ZM665.25 177.50H667.65A2.4 2.4 0 1 1 665.25 179.91ZM660.55 177.50V179.91A2.4 2.4 0 1 1 658.15 177.50Z" fill="none" stroke="#595959" stroke-width="1.7" stroke-linejoin="round"/><path d="M682.95 205.98L689.85 212.28L682.95 218.59" fill="none" stroke="#e6e6e6" stroke-width="2.5" stroke-linecap="round" stroke-linejoin="round"/><rect x="390.70" y="238.53" width="301.85" height="1.9" rx="0.9" fill="#3e3e3e"/><circle cx="407.10" cy="267.08" r="4.55" fill="none" stroke="#f14e14" stroke-width="1.95"/><path d="M415.40 267.08L417.85 267.08M412.97 272.95L414.70 274.68M407.10 275.38L407.10 277.83M401.23 272.95L399.50 274.68M398.80 267.08L396.35 267.08M401.23 261.21L399.50 259.48M407.10 258.78L407.10 256.33M412.97 261.21L414.70 259.48" stroke="#f14e14" stroke-width="1.95" stroke-linecap="round" fill="none"/><path d="M682.95 261.08L689.85 267.38L682.95 273.68" fill="none" stroke="#e6e6e6" stroke-width="2.5" stroke-linecap="round" stroke-linejoin="round"/><circle cx="407.10" cy="303.81" r="4.55" fill="none" stroke="#f14a14" stroke-width="1.95"/><path d="M415.40 303.81L417.85 303.81M412.97 309.68L414.70 311.41M407.10 312.11L407.10 314.56M401.23 309.68L399.50 311.41M398.80 303.81L396.35 303.81M401.23 297.94L399.50 296.21M407.10 295.51L407.10 293.06M412.97 297.94L414.70 296.21" stroke="#f14a14" stroke-width="1.95" stroke-linecap="round" fill="none"/><path d="M682.95 297.81L689.85 304.11L682.95 310.41" fill="none" stroke="#e6e6e6" stroke-width="2.5" stroke-linecap="round" stroke-linejoin="round"/><circle cx="407.10" cy="340.54" r="4.55" fill="none" stroke="#f14215" stroke-width="1.95"/><path d="M415.40 340.54L417.85 340.54M412.97 346.41L414.70 348.14M407.10 348.84L407.10 351.29M401.23 346.41L399.50 348.14M398.80 340.54L396.35 340.54M401.23 334.67L399.50 332.94M407.10 332.24L407.10 329.79M412.97 334.67L414.70 332.94" stroke="#f14215" stroke-width="1.95" stroke-linecap="round" fill="none"/><path d="M682.95 334.54L689.85 340.84L682.95 347.14" fill="none" stroke="#e6e6e6" stroke-width="2.5" stroke-linecap="round" stroke-linejoin="round"/><circle cx="407.10" cy="377.27" r="4.55" fill="none" stroke="#ef3418" stroke-width="1.95"/><path d="M415.40 377.27L417.85 377.27M412.97 383.14L414.70 384.87M407.10 385.57L407.10 388.02M401.23 383.14L399.50 384.87M398.80 377.27L396.35 377.27M401.23 371.40L399.50 369.67M407.10 368.97L407.10 366.52M412.97 371.40L414.70 369.67" stroke="#ef3418" stroke-width="1.95" stroke-linecap="round" fill="none"/><path d="M682.95 371.27L689.85 377.57L682.95 383.87" fill="none" stroke="#e6e6e6" stroke-width="2.5" stroke-linecap="round" stroke-linejoin="round"/><circle cx="407.10" cy="414.00" r="4.55" fill="none" stroke="#ec281e" stroke-width="1.95"/><path d="M415.40 414.00L417.85 414.00M412.97 419.87L414.70 421.60M407.10 422.30L407.10 424.75M401.23 419.87L399.50 421.60M398.80 414.00L396.35 414.00M401.23 408.13L399.50 406.40M407.10 405.70L407.10 403.25M412.97 408.13L414.70 406.40" stroke="#ec281e" stroke-width="1.95" stroke-linecap="round" fill="none"/><path d="M682.95 408.00L689.85 414.30L682.95 420.60" fill="none" stroke="#e6e6e6" stroke-width="2.5" stroke-linecap="round" stroke-linejoin="round"/><circle cx="407.10" cy="450.73" r="4.55" fill="none" stroke="#eb1e1e" stroke-width="1.95"/><path d="M415.40 450.73L417.85 450.73M412.97 456.60L414.70 458.33M407.10 459.03L407.10 461.48M401.23 456.60L399.50 458.33M398.80 450.73L396.35 450.73M401.23 444.86L399.50 443.13M407.10 442.43L407.10 439.98M412.97 444.86L414.70 443.13" stroke="#eb1e1e" stroke-width="1.95" stroke-linecap="round" fill="none"/><path d="M682.95 444.73L689.85 451.03L682.95 457.33" fill="none" stroke="#e6e6e6" stroke-width="2.5" stroke-linecap="round" stroke-linejoin="round"/><circle cx="407.10" cy="487.46" r="4.55" fill="none" stroke="#eb1e1e" stroke-width="1.95"/><path d="M415.40 487.46L417.85 487.46M412.97 493.33L414.70 495.06M407.10 495.76L407.10 498.21M401.23 493.33L399.50 495.06M398.80 487.46L396.35 487.46M401.23 481.59L399.50 479.86M407.10 479.16L407.10 476.71M412.97 481.59L414.70 479.86" stroke="#eb1e1e" stroke-width="1.95" stroke-linecap="round" fill="none"/><path d="M682.95 481.46L689.85 487.76L682.95 494.06" fill="none" stroke="#e6e6e6" stroke-width="2.5" stroke-linecap="round" stroke-linejoin="round"/><circle cx="407.10" cy="524.19" r="4.55" fill="none" stroke="#ee2e1b" stroke-width="1.95"/><path d="M415.40 524.19L417.85 524.19M412.97 530.06L414.70 531.79M407.10 532.49L407.10 534.94M401.23 530.06L399.50 531.79M398.80 524.19L396.35 524.19M401.23 518.32L399.50 516.59M407.10 515.89L407.10 513.44M412.97 518.32L414.70 516.59" stroke="#ee2e1b" stroke-width="1.95" stroke-linecap="round" fill="none"/><path d="M682.95 518.19L689.85 524.49L682.95 530.79" fill="none" stroke="#e6e6e6" stroke-width="2.5" stroke-linecap="round" stroke-linejoin="round"/><path d="M393.00 571.52H419.30" stroke="#5c5c5c" stroke-width="1.3" stroke-linecap="round"/><path d="M404.22 571.52A5.0 5.0 0 1 1 408.58 571.52" fill="none" stroke="#5c5c5c" stroke-width="1.5"/><path d="M394.80 566.92H398.00M414.80 566.92H418.00M398.00 558.82L400.50 561.32M414.80 558.82L412.30 561.32M406.40 550.62V557.72M402.80 554.12L406.40 557.72L410.00 554.12" fill="none" stroke="#5c5c5c" stroke-width="1.5" stroke-linecap="round" stroke-linejoin="round"/><path d="M404.15 586.99A10.45 10.45 0 1 0 417.40 601.26A10.5 10.5 0 0 1 404.15 586.99Z" fill="none" stroke="#f03917" stroke-width="1.75" stroke-linejoin="round"/><path d="M682.95 591.65L689.85 597.95L682.95 604.25" fill="none" stroke="#e6e6e6" stroke-width="2.5" stroke-linecap="round" stroke-linejoin="round"/><path d="M404.15 623.72A10.45 10.45 0 1 0 417.40 637.99A10.5 10.5 0 0 1 404.15 623.72Z" fill="none" stroke="#f03d16" stroke-width="1.75" stroke-linejoin="round"/><path d="M682.95 628.38L689.85 634.68L682.95 640.98" fill="none" stroke="#e6e6e6" stroke-width="2.5" stroke-linecap="round" stroke-linejoin="round"/><path d="M404.15 660.45A10.45 10.45 0 1 0 417.40 674.72A10.5 10.5 0 0 1 404.15 660.45Z" fill="none" stroke="#f14215" stroke-width="1.75" stroke-linejoin="round"/><path d="M682.95 665.11L689.85 671.41L682.95 677.71" fill="none" stroke="#e6e6e6" stroke-width="2.5" stroke-linecap="round" stroke-linejoin="round"/><path d="M404.15 697.18A10.45 10.45 0 1 0 417.40 711.45A10.5 10.5 0 0 1 404.15 697.18Z" fill="none" stroke="#f14215" stroke-width="1.75" stroke-linejoin="round"/><path d="M682.95 701.84L689.85 708.14L682.95 714.44" fill="none" stroke="#e6e6e6" stroke-width="2.5" stroke-linecap="round" stroke-linejoin="round"/><path d="M404.15 733.91A10.45 10.45 0 1 0 417.40 748.18A10.5 10.5 0 0 1 404.15 733.91Z" fill="none" stroke="#f14614" stroke-width="1.75" stroke-linejoin="round"/><path d="M682.95 738.57L689.85 744.87L682.95 751.17" fill="none" stroke="#e6e6e6" stroke-width="2.5" stroke-linecap="round" stroke-linejoin="round"/><path d="M404.15 770.64A10.45 10.45 0 1 0 417.40 784.91A10.5 10.5 0 0 1 404.15 770.64Z" fill="none" stroke="#f14a14" stroke-width="1.75" stroke-linejoin="round"/><path d="M682.95 775.30L689.85 781.60L682.95 787.90" fill="none" stroke="#e6e6e6" stroke-width="2.5" stroke-linecap="round" stroke-linejoin="round"/><rect x="390.70" y="807.85" width="301.85" height="1.9" rx="0.9" fill="#3e3e3e"/><circle cx="400.15" cy="836.70" r="5.35" fill="none" stroke="#e6e6e6" stroke-width="1.6"/><circle cx="415.75" cy="836.70" r="6.1" fill="#e6e6e6"/><path d="M682.95 830.40L689.85 836.70L682.95 843.00" fill="none" stroke="#e6e6e6" stroke-width="2.5" stroke-linecap="round" stroke-linejoin="round"/><rect x="390.70" y="862.94" width="301.85" height="1.9" rx="0.9" fill="#3e3e3e"/><path d="M682.95 885.49L689.85 891.79L682.95 898.09" fill="none" stroke="#e6e6e6" stroke-width="2.5" stroke-linecap="round" stroke-linejoin="round"/><rect x="390.70" y="918.04" width="301.85" height="1.9" rx="0.9" fill="#3e3e3e"/><rect x="390.70" y="1046.59" width="301.85" height="1.9" rx="0.9" fill="#3e3e3e"/></svg>
<div class="t" style="left:390.40px;top:163.00px;color:#e6e6e6;letter-spacing:-0.113px">Refresh</div>
<div class="t" style="left:678.40px;top:163.00px;color:#595959;transform:scaleX(0.85);transform-origin:0 0">R</div>
<div class="t" style="left:390.40px;top:200.00px;color:#e6e6e6;letter-spacing:0.003px">Little Elm, TX</div>
<div class="t" style="left:434.23px;top:255.00px;color:#e6e6e6;letter-spacing:0.306px">47<span class="d">°</span><span class="f">F</span> – 10 AM</div>
<div class="t" style="left:434.23px;top:292.00px;color:#e6e6e6;letter-spacing:0.306px">48<span class="d">°</span><span class="f">F</span> – 11 AM</div>
<div class="t" style="left:433.85px;top:328.00px;color:#e6e6e6;letter-spacing:0.259px">50<span class="d">°</span><span class="f">F</span> – 12 PM</div>
<div class="t" style="left:433.85px;top:365.00px;color:#e6e6e6;letter-spacing:0.207px">53<span class="d">°</span><span class="f">F</span> – 1 PM</div>
<div class="t" style="left:433.85px;top:402.00px;color:#e6e6e6;letter-spacing:0.207px">57<span class="d">°</span><span class="f">F</span> – 2 PM</div>
<div class="t" style="left:433.61px;top:438.00px;color:#e6e6e6;letter-spacing:0.231px">60<span class="d">°</span><span class="f">F</span> – 3 PM</div>
<div class="t" style="left:433.61px;top:475.00px;color:#e6e6e6;letter-spacing:0.231px">60<span class="d">°</span><span class="f">F</span> – 4 PM</div>
<div class="t" style="left:433.85px;top:512.00px;color:#e6e6e6;letter-spacing:0.207px">55<span class="d">°</span><span class="f">F</span> – 5 PM</div>
<div class="t" style="left:434.03px;top:549.00px;color:#5c5c5c;letter-spacing:0.087px">Sunset – 5:29 PM</div>
<div class="t" style="left:433.85px;top:585.00px;color:#e6e6e6;letter-spacing:0.207px">52<span class="d">°</span><span class="f">F</span> – 6 PM</div>
<div class="t" style="left:433.85px;top:622.00px;color:#e6e6e6;letter-spacing:0.207px">51<span class="d">°</span><span class="f">F</span> – 7 PM</div>
<div class="t" style="left:433.85px;top:659.00px;color:#e6e6e6;letter-spacing:0.207px">50<span class="d">°</span><span class="f">F</span> – 8 PM</div>
<div class="t" style="left:433.85px;top:696.00px;color:#e6e6e6;letter-spacing:0.207px">50<span class="d">°</span><span class="f">F</span> – 9 PM</div>
<div class="t" style="left:434.23px;top:732.00px;color:#e6e6e6;letter-spacing:0.197px">49<span class="d">°</span><span class="f">F</span> – 10 PM</div>
<div class="t" style="left:434.23px;top:769.00px;color:#e6e6e6;letter-spacing:0.197px">48<span class="d">°</span><span class="f">F</span> – 11 PM</div>
<div class="t" style="left:434.49px;top:824.00px;color:#e6e6e6;letter-spacing:-0.252px">Tomorrow</div>
<div class="t" style="left:390.93px;top:879.00px;color:#e6e6e6;letter-spacing:0.291px">Settings</div>
<div class="t" style="left:391.51px;top:934.00px;color:#e6e6e6;letter-spacing:0.102px">About</div>
<div class="t" style="left:390.40px;top:971.00px;color:#e6e6e6;letter-spacing:-0.085px">Feedback</div>
<div class="t" style="left:390.40px;top:1008.00px;color:#e6e6e6;letter-spacing:-0.413px">Help &amp; FAQ</div>
</div>
<div class="p dark" style="width:836px">
<svg width="836" height="1262" viewBox="0 0 836 1262"><path d="M502.80 198.30A11.85 11.85 0 0 0 487.95 209.80V1108.60H490.00V207.00A9.0 9.0 0 0 1 499.80 198Z" fill="#000"/><rect x="490.00" y="209.00" width="1.4" height="896.60" fill="#1c1c1c"/><path d="M499.80 198H827.50A8.5 8.5 0 0 1 836.00 206.5V1113.60H497.30A6.5 6.5 0 0 1 490.80 1107.10V207.0A9.0 9.0 0 0 1 499.80 198Z" fill="#474747"/><path d="M499.70 200.0H829.00A7.0 7.0 0 0 1 836.00 206.50V1114.60H497.30V1113.60A5.0 5.0 0 0 1 492.30 1108.60V207.4A7.4 7.4 0 0 1 499.70 200.0Z" fill="#1c1c1c"/><path d="M784.55 222.81H789.25V227.50H784.55ZM784.55 222.81H782.15A2.4 2.4 0 1 1 784.55 220.41ZM789.25 222.81V220.41A2.4 2.4 0 1 1 791.65 222.81ZM789.25 227.50H791.65A2.4 2.4 0 1 1 789.25 229.91ZM784.55 227.50V229.91A2.4 2.4 0 1 1 782.15 227.50Z" fill="none" stroke="#595959" stroke-width="1.7" stroke-linejoin="round"/><path d="M806.95 255.98L813.85 262.28L806.95 268.58" fill="none" stroke="#e6e6e6" stroke-width="2.5" stroke-linecap="round" stroke-linejoin="round"/><rect x="514.70" y="288.53" width="301.85" height="1.9" rx="0.9" fill="#3e3e3e"/><circle cx="531.10" cy="317.08" r="4.55" fill="none" stroke="#ec5ed4" stroke-width="1.95"/><path d="M539.40 317.08L541.85 317.08M536.97 322.95L538.70 324.68M531.10 325.38L531.10 327.83M525.23 322.95L523.50 324.68M522.80 317.08L520.35 317.08M525.23 311.21L523.50 309.48M531.10 308.78L531.10 306.33M536.97 311.21L538.70 309.48" stroke="#ec5ed4" stroke-width="1.95" stroke-linecap="round" fill="none"/><path d="M806.95 311.08L813.85 317.38L806.95 323.68" fill="none" stroke="#e6e6e6" stroke-width="2.5" stroke-linecap="round" stroke-linejoin="round"/><circle cx="531.10" cy="353.81" r="4.55" fill="none" stroke="#ec5ad7" stroke-width="1.95"/><path d="M539.40 353.81L541.85 353.81M536.97 359.68L538.70 361.41M531.10 362.11L531.10 364.56M525.23 359.68L523.50 361.41M522.80 353.81L520.35 353.81M525.23 347.94L523.50 346.21M531.10 345.51L531.10 343.06M536.97 347.94L538.70 346.21" stroke="#ec5ad7" stroke-width="1.95" stroke-linecap="round" fill="none"/><path d="M806.95 347.81L813.85 354.11L806.95 360.41" fill="none" stroke="#e6e6e6" stroke-width="2.5" stroke-linecap="round" stroke-linejoin="round"/><circle cx="531.10" cy="390.54" r="4.55" fill="none" stroke="#ed52db" stroke-width="1.95"/><path d="M539.40 390.54L541.85 390.54M536.97 396.41L538.70 398.14M531.10 398.84L531.10 401.29M525.23 396.41L523.50 398.14M522.80 390.54L520.35 390.54M525.23 384.67L523.50 382.94M531.10 382.24L531.10 379.79M536.97 384.67L538.70 382.94" stroke="#ed52db" stroke-width="1.95" stroke-linecap="round" fill="none"/><path d="M806.95 384.54L813.85 390.84L806.95 397.14" fill="none" stroke="#e6e6e6" stroke-width="2.5" stroke-linecap="round" stroke-linejoin="round"/><circle cx="531.10" cy="427.27" r="4.55" fill="none" stroke="#ee44de" stroke-width="1.95"/><path d="M539.40 427.27L541.85 427.27M536.97 433.14L538.70 434.87M531.10 435.57L531.10 438.02M525.23 433.14L523.50 434.87M522.80 427.27L520.35 427.27M525.23 421.40L523.50 419.67M531.10 418.97L531.10 416.52M536.97 421.40L538.70 419.67" stroke="#ee44de" stroke-width="1.95" stroke-linecap="round" fill="none"/><path d="M806.95 421.27L813.85 427.57L806.95 433.87" fill="none" stroke="#e6e6e6" stroke-width="2.5" stroke-linecap="round" stroke-linejoin="round"/><circle cx="531.10" cy="464.00" r="4.55" fill="none" stroke="#ee30e4" stroke-width="1.95"/><path d="M539.40 464.00L541.85 464.00M536.97 469.87L538.70 471.60M531.10 472.30L531.10 474.75M525.23 469.87L523.50 471.60M522.80 464.00L520.35 464.00M525.23 458.13L523.50 456.40M531.10 455.70L531.10 453.25M536.97 458.13L538.70 456.40" stroke="#ee30e4" stroke-width="1.95" stroke-linecap="round" fill="none"/><path d="M806.95 458.00L813.85 464.30L806.95 470.60" fill="none" stroke="#e6e6e6" stroke-width="2.5" stroke-linecap="round" stroke-linejoin="round"/><circle cx="531.10" cy="500.73" r="4.55" fill="none" stroke="#ee1eeb" stroke-width="1.95"/><path d="M539.40 500.73L541.85 500.73M536.97 506.60L538.70 508.33M531.10 509.03L531.10 511.48M525.23 506.60L523.50 508.33M522.80 500.73L520.35 500.73M525.23 494.86L523.50 493.13M531.10 492.43L531.10 489.98M536.97 494.86L538.70 493.13" stroke="#ee1eeb" stroke-width="1.95" stroke-linecap="round" fill="none"/><path d="M806.95 494.73L813.85 501.03L806.95 507.33" fill="none" stroke="#e6e6e6" stroke-width="2.5" stroke-linecap="round" stroke-linejoin="round"/><circle cx="531.10" cy="537.46" r="4.55" fill="none" stroke="#ee1eeb" stroke-width="1.95"/><path d="M539.40 537.46L541.85 537.46M536.97 543.33L538.70 545.06M531.10 545.76L531.10 548.21M525.23 543.33L523.50 545.06M522.80 537.46L520.35 537.46M525.23 531.59L523.50 529.86M531.10 529.16L531.10 526.71M536.97 531.59L538.70 529.86" stroke="#ee1eeb" stroke-width="1.95" stroke-linecap="round" fill="none"/><path d="M806.95 531.46L813.85 537.76L806.95 544.06" fill="none" stroke="#e6e6e6" stroke-width="2.5" stroke-linecap="round" stroke-linejoin="round"/><circle cx="531.10" cy="574.19" r="4.55" fill="none" stroke="#ee3ae1" stroke-width="1.95"/><path d="M539.40 574.19L541.85 574.19M536.97 580.06L538.70 581.79M531.10 582.49L531.10 584.94M525.23 580.06L523.50 581.79M522.80 574.19L520.35 574.19M525.23 568.32L523.50 566.59M531.10 565.89L531.10 563.44M536.97 568.32L538.70 566.59" stroke="#ee3ae1" stroke-width="1.95" stroke-linecap="round" fill="none"/><path d="M806.95 568.19L813.85 574.49L806.95 580.79" fill="none" stroke="#e6e6e6" stroke-width="2.5" stroke-linecap="round" stroke-linejoin="round"/><path d="M517.00 621.52H543.30" stroke="#5c5c5c" stroke-width="1.3" stroke-linecap="round"/><path d="M528.22 621.52A5.0 5.0 0 1 1 532.58 621.52" fill="none" stroke="#5c5c5c" stroke-width="1.5"/><path d="M518.80 616.92H522.00M538.80 616.92H542.00M522.00 608.82L524.50 611.32M538.80 608.82L536.30 611.32M530.40 600.62V607.72M526.80 604.12L530.40 607.72L534.00 604.12" fill="none" stroke="#5c5c5c" stroke-width="1.5" stroke-linecap="round" stroke-linejoin="round"/><path d="M528.15 636.99A10.45 10.45 0 1 0 541.40 651.26A10.5 10.5 0 0 1 528.15 636.99Z" fill="none" stroke="#ee49dd" stroke-width="1.75" stroke-linejoin="round"/><path d="M806.95 641.65L813.85 647.95L806.95 654.25" fill="none" stroke="#e6e6e6" stroke-width="2.5" stroke-linecap="round" stroke-linejoin="round"/><path d="M528.15 673.72A10.45 10.45 0 1 0 541.40 687.99A10.5 10.5 0 0 1 528.15 673.72Z" fill="none" stroke="#ed4ddc" stroke-width="1.75" stroke-linejoin="round"/><path d="M806.95 678.38L813.85 684.68L806.95 690.98" fill="none" stroke="#e6e6e6" stroke-width="2.5" stroke-linecap="round" stroke-linejoin="round"/><path d="M528.15 710.45A10.45 10.45 0 1 0 541.40 724.72A10.5 10.5 0 0 1 528.15 710.45Z" fill="none" stroke="#ed52db" stroke-width="1.75" stroke-linejoin="round"/><path d="M806.95 715.11L813.85 721.41L806.95 727.71" fill="none" stroke="#e6e6e6" stroke-width="2.5" stroke-linecap="round" stroke-linejoin="round"/><path d="M528.15 747.18A10.45 10.45 0 1 0 541.40 761.45A10.5 10.5 0 0 1 528.15 747.18Z" fill="none" stroke="#ed52db" stroke-width="1.75" stroke-linejoin="round"/><path d="M806.95 751.84L813.85 758.14L806.95 764.44" fill="none" stroke="#e6e6e6" stroke-width="2.5" stroke-linecap="round" stroke-linejoin="round"/><path d="M528.15 783.91A10.45 10.45 0 1 0 541.40 798.18A10.5 10.5 0 0 1 528.15 783.91Z" fill="none" stroke="#ec56d9" stroke-width="1.75" stroke-linejoin="round"/><path d="M806.95 788.57L813.85 794.87L806.95 801.17" fill="none" stroke="#e6e6e6" stroke-width="2.5" stroke-linecap="round" stroke-linejoin="round"/><path d="M528.15 820.64A10.45 10.45 0 1 0 541.40 834.91A10.5 10.5 0 0 1 528.15 820.64Z" fill="none" stroke="#ec5ad7" stroke-width="1.75" stroke-linejoin="round"/><path d="M806.95 825.30L813.85 831.60L806.95 837.90" fill="none" stroke="#e6e6e6" stroke-width="2.5" stroke-linecap="round" stroke-linejoin="round"/><rect x="514.70" y="857.85" width="301.85" height="1.9" rx="0.9" fill="#3e3e3e"/><circle cx="524.15" cy="886.70" r="5.35" fill="none" stroke="#e6e6e6" stroke-width="1.6"/><circle cx="539.75" cy="886.70" r="6.1" fill="#e6e6e6"/><path d="M806.95 880.40L813.85 886.70L806.95 893.00" fill="none" stroke="#e6e6e6" stroke-width="2.5" stroke-linecap="round" stroke-linejoin="round"/><rect x="514.70" y="912.94" width="301.85" height="1.9" rx="0.9" fill="#3e3e3e"/><path d="M806.95 935.49L813.85 941.79L806.95 948.09" fill="none" stroke="#e6e6e6" stroke-width="2.5" stroke-linecap="round" stroke-linejoin="round"/><rect x="514.70" y="968.04" width="301.85" height="1.9" rx="0.9" fill="#3e3e3e"/><rect x="514.70" y="1096.59" width="301.85" height="1.9" rx="0.9" fill="#3e3e3e"/></svg>
<div class="t" style="left:514.40px;top:213.00px;color:#e6e6e6;letter-spacing:-0.113px">Refresh</div>
<div class="t" style="left:802.40px;top:213.00px;color:#595959;transform:scaleX(0.85);transform-origin:0 0">R</div>
<div class="t" style="left:514.40px;top:250.00px;color:#e6e6e6;letter-spacing:0.003px">Little Elm, TX</div>
<div class="t" style="left:558.23px;top:305.00px;color:#e6e6e6;letter-spacing:0.306px">47<span class="d">°</span><span class="f">F</span> – 10 AM</div>
<div class="t" style="left:558.23px;top:342.00px;color:#e6e6e6;letter-spacing:0.306px">48<span class="d">°</span><span class="f">F</span> – 11 AM</div>
<div class="t" style="left:557.85px;top:378.00px;color:#e6e6e6;letter-spacing:0.259px">50<span class="d">°</span><span class="f">F</span> – 12 PM</div>
<div class="t" style="left:557.85px;top:415.00px;color:#e6e6e6;letter-spacing:0.207px">53<span class="d">°</span><span class="f">F</span> – 1 PM</div>
<div class="t" style="left:557.85px;top:452.00px;color:#e6e6e6;letter-spacing:0.207px">57<span class="d">°</span><span class="f">F</span> – 2 PM</div>
<div class="t" style="left:557.61px;top:488.00px;color:#e6e6e6;letter-spacing:0.231px">60<span class="d">°</span><span class="f">F</span> – 3 PM</div>
<div class="t" style="left:557.61px;top:525.00px;color:#e6e6e6;letter-spacing:0.231px">60<span class="d">°</span><span class="f">F</span> – 4 PM</div>
<div class="t" style="left:557.85px;top:562.00px;color:#e6e6e6;letter-spacing:0.207px">55<span class="d">°</span><span class="f">F</span> – 5 PM</div>
<div class="t" style="left:558.03px;top:599.00px;color:#5c5c5c;letter-spacing:0.087px">Sunset – 5:29 PM</div>
<div class="t" style="left:557.85px;top:635.00px;color:#e6e6e6;letter-spacing:0.207px">52<span class="d">°</span><span class="f">F</span> – 6 PM</div>
<div class="t" style="left:557.85px;top:672.00px;color:#e6e6e6;letter-spacing:0.207px">51<span class="d">°</span><span class="f">F</span> – 7 PM</div>
<div class="t" style="left:557.85px;top:709.00px;color:#e6e6e6;letter-spacing:0.207px">50<span class="d">°</span><span class="f">F</span> – 8 PM</div>
<div class="t" style="left:557.85px;top:746.00px;color:#e6e6e6;letter-spacing:0.207px">50<span class="d">°</span><span class="f">F</span> – 9 PM</div>
<div class="t" style="left:558.23px;top:782.00px;color:#e6e6e6;letter-spacing:0.197px">49<span class="d">°</span><span class="f">F</span> – 10 PM</div>
<div class="t" style="left:558.23px;top:819.00px;color:#e6e6e6;letter-spacing:0.197px">48<span class="d">°</span><span class="f">F</span> – 11 PM</div>
<div class="t" style="left:558.49px;top:874.00px;color:#e6e6e6;letter-spacing:-0.252px">Tomorrow</div>
<div class="t" style="left:514.93px;top:929.00px;color:#e6e6e6;letter-spacing:0.291px">Settings</div>
<div class="t" style="left:515.51px;top:984.00px;color:#e6e6e6;letter-spacing:0.102px">About</div>
<div class="t" style="left:514.40px;top:1021.00px;color:#e6e6e6;letter-spacing:-0.085px">Feedback</div>
<div class="t" style="left:514.40px;top:1058.00px;color:#e6e6e6;letter-spacing:-0.413px">Help &amp; FAQ</div>
</div>
<div class="p dark" style="width:958px">
<svg width="958" height="1262" viewBox="0 0 958 1262"><path d="M624.80 248.30A11.85 11.85 0 0 0 609.95 259.80V1158.60H612.00V257.00A9.0 9.0 0 0 1 621.80 248Z" fill="#000"/><rect x="612.00" y="259.00" width="1.4" height="896.60" fill="#1c1c1c"/><path d="M621.80 248H949.50A8.5 8.5 0 0 1 958.00 256.5V1163.60H619.30A6.5 6.5 0 0 1 612.80 1157.10V257.0A9.0 9.0 0 0 1 621.80 248Z" fill="#474747"/><path d="M621.70 250.0H951.00A7.0 7.0 0 0 1 958.00 256.50V1164.60H619.30V1163.60A5.0 5.0 0 0 1 614.30 1158.60V257.4A7.4 7.4 0 0 1 621.70 250.0Z" fill="#1c1c1c"/><path d="M906.55 272.80H911.25V277.50H906.55ZM906.55 272.80H904.15A2.4 2.4 0 1 1 906.55 270.40ZM911.25 272.80V270.40A2.4 2.4 0 1 1 913.65 272.80ZM911.25 277.50H913.65A2.4 2.4 0 1 1 911.25 279.90ZM906.55 277.50V279.90A2.4 2.4 0 1 1 904.15 277.50Z" fill="none" stroke="#595959" stroke-width="1.7" stroke-linejoin="round"/><path d="M928.95 305.99L935.85 312.29L928.95 318.59" fill="none" stroke="#e6e6e6" stroke-width="2.5" stroke-linecap="round" stroke-linejoin="round"/><rect x="636.70" y="338.53" width="301.85" height="1.9" rx="0.9" fill="#3e3e3e"/><circle cx="653.10" cy="367.08" r="4.55" fill="none" stroke="#a070b4" stroke-width="1.95"/><path d="M661.40 367.08L663.85 367.08M658.97 372.95L660.70 374.68M653.10 375.38L653.10 377.83M647.23 372.95L645.50 374.68M644.80 367.08L642.35 367.08M647.23 361.21L645.50 359.48M653.10 358.78L653.10 356.33M658.97 361.21L660.70 359.48" stroke="#a070b4" stroke-width="1.95" stroke-linecap="round" fill="none"/><path d="M928.95 361.08L935.85 367.38L928.95 373.68" fill="none" stroke="#e6e6e6" stroke-width="2.5" stroke-linecap="round" stroke-linejoin="round"/><circle cx="653.10" cy="403.81" r="4.55" fill="none" stroke="#a871a8" stroke-width="1.95"/><path d="M661.40 403.81L663.85 403.81M658.97 409.68L660.70 411.41M653.10 412.11L653.10 414.56M647.23 409.68L645.50 411.41M644.80 403.81L642.35 403.81M647.23 397.94L645.50 396.21M653.10 395.51L653.10 393.06M658.97 397.94L660.70 396.21" stroke="#a871a8" stroke-width="1.95" stroke-linecap="round" fill="none"/><path d="M928.95 397.81L935.85 404.11L928.95 410.41" fill="none" stroke="#e6e6e6" stroke-width="2.5" stroke-linecap="round" stroke-linejoin="round"/><circle cx="653.10" cy="440.54" r="4.55" fill="none" stroke="#b6708c" stroke-width="1.95"/><path d="M661.40 440.54L663.85 440.54M658.97 446.41L660.70 448.14M653.10 448.84L653.10 451.29M647.23 446.41L645.50 448.14M644.80 440.54L642.35 440.54M647.23 434.67L645.50 432.94M653.10 432.24L653.10 429.79M658.97 434.67L660.70 432.94" stroke="#b6708c" stroke-width="1.95" stroke-linecap="round" fill="none"/><path d="M928.95 434.54L935.85 440.84L928.95 447.14" fill="none" stroke="#e6e6e6" stroke-width="2.5" stroke-linecap="round" stroke-linejoin="round"/><circle cx="653.10" cy="477.27" r="4.55" fill="none" stroke="#d27276" stroke-width="1.95"/><path d="M661.40 477.27L663.85 477.27M658.97 483.14L660.70 484.87M653.10 485.57L653.10 488.02M647.23 483.14L645.50 484.87M644.80 477.27L642.35 477.27M647.23 471.40L645.50 469.67M653.10 468.97L653.10 466.52M658.97 471.40L660.70 469.67" stroke="#d27276" stroke-width="1.95" stroke-linecap="round" fill="none"/><path d="M928.95 471.27L935.85 477.57L928.95 483.87" fill="none" stroke="#e6e6e6" stroke-width="2.5" stroke-linecap="round" stroke-linejoin="round"/><circle cx="653.10" cy="514.00" r="4.55" fill="none" stroke="#eb6c3c" stroke-width="1.95"/><path d="M661.40 514.00L663.85 514.00M658.97 519.87L660.70 521.60M653.10 522.30L653.10 524.75M647.23 519.87L645.50 521.60M644.80 514.00L642.35 514.00M647.23 508.13L645.50 506.40M653.10 505.70L653.10 503.25M658.97 508.13L660.70 506.40" stroke="#eb6c3c" stroke-width="1.95" stroke-linecap="round" fill="none"/><path d="M928.95 508.00L935.85 514.30L928.95 520.60" fill="none" stroke="#e6e6e6" stroke-width="2.5" stroke-linecap="round" stroke-linejoin="round"/><circle cx="653.10" cy="550.73" r="4.55" fill="none" stroke="#f56414" stroke-width="1.95"/><path d="M661.40 550.73L663.85 550.73M658.97 556.60L660.70 558.33M653.10 559.03L653.10 561.48M647.23 556.60L645.50 558.33M644.80 550.73L642.35 550.73M647.23 544.86L645.50 543.13M653.10 542.43L653.10 539.98M658.97 544.86L660.70 543.13" stroke="#f56414" stroke-width="1.95" stroke-linecap="round" fill="none"/><path d="M928.95 544.73L935.85 551.03L928.95 557.33" fill="none" stroke="#e6e6e6" stroke-width="2.5" stroke-linecap="round" stroke-linejoin="round"/><circle cx="653.10" cy="587.46" r="4.55" fill="none" stroke="#f56414" stroke-width="1.95"/><path d="M661.40 587.46L663.85 587.46M658.97 593.33L660.70 595.06M653.10 595.76L653.10 598.21M647.23 593.33L645.50 595.06M644.80 587.46L642.35 587.46M647.23 581.59L645.50 579.86M653.10 579.16L653.10 576.71M658.97 581.59L660.70 579.86" stroke="#f56414" stroke-width="1.95" stroke-linecap="round" fill="none"/><path d="M928.95 581.46L935.85 587.76L928.95 594.06" fill="none" stroke="#e6e6e6" stroke-width="2.5" stroke-linecap="round" stroke-linejoin="round"/><circle cx="653.10" cy="624.19" r="4.55" fill="none" stroke="#e06f5a" stroke-width="1.95"/><path d="M661.40 624.19L663.85 624.19M658.97 630.06L660.70 631.79M653.10 632.49L653.10 634.94M647.23 630.06L645.50 631.79M644.80 624.19L642.35 624.19M647.23 618.32L645.50 616.59M653.10 615.89L653.10 613.44M658.97 618.32L660.70 616.59" stroke="#e06f5a" stroke-width="1.95" stroke-linecap="round" fill="none"/><path d="M928.95 618.19L935.85 624.49L928.95 630.79" fill="none" stroke="#e6e6e6" stroke-width="2.5" stroke-linecap="round" stroke-linejoin="round"/><path d="M639.00 671.52H665.30" stroke="#5c5c5c" stroke-width="1.3" stroke-linecap="round"/><path d="M650.22 671.52A5.0 5.0 0 1 1 654.58 671.52" fill="none" stroke="#5c5c5c" stroke-width="1.5"/><path d="M640.80 666.92H644.00M660.80 666.92H664.00M644.00 658.82L646.50 661.32M660.80 658.82L658.30 661.32M652.40 650.62V657.72M648.80 654.12L652.40 657.72L656.00 654.12" fill="none" stroke="#5c5c5c" stroke-width="1.5" stroke-linecap="round" stroke-linejoin="round"/><path d="M650.15 686.99A10.45 10.45 0 1 0 663.40 701.26A10.5 10.5 0 0 1 650.15 686.99Z" fill="none" stroke="#c9717d" stroke-width="1.75" stroke-linejoin="round"/><path d="M928.95 691.65L935.85 697.95L928.95 704.25" fill="none" stroke="#e6e6e6" stroke-width="2.5" stroke-linecap="round" stroke-linejoin="round"/><path d="M650.15 723.72A10.45 10.45 0 1 0 663.40 737.99A10.5 10.5 0 0 1 650.15 723.72Z" fill="none" stroke="#bf7185" stroke-width="1.75" stroke-linejoin="round"/><path d="M928.95 728.38L935.85 734.68L928.95 740.98" fill="none" stroke="#e6e6e6" stroke-width="2.5" stroke-linecap="round" stroke-linejoin="round"/><path d="M650.15 760.45A10.45 10.45 0 1 0 663.40 774.72A10.5 10.5 0 0 1 650.15 760.45Z" fill="none" stroke="#b6708c" stroke-width="1.75" stroke-linejoin="round"/><path d="M928.95 765.11L935.85 771.41L928.95 777.71" fill="none" stroke="#e6e6e6" stroke-width="2.5" stroke-linecap="round" stroke-linejoin="round"/><path d="M650.15 797.18A10.45 10.45 0 1 0 663.40 811.45A10.5 10.5 0 0 1 650.15 797.18Z" fill="none" stroke="#b6708c" stroke-width="1.75" stroke-linejoin="round"/><path d="M928.95 801.84L935.85 808.14L928.95 814.44" fill="none" stroke="#e6e6e6" stroke-width="2.5" stroke-linecap="round" stroke-linejoin="round"/><path d="M650.15 833.91A10.45 10.45 0 1 0 663.40 848.18A10.5 10.5 0 0 1 650.15 833.91Z" fill="none" stroke="#af709a" stroke-width="1.75" stroke-linejoin="round"/><path d="M928.95 838.57L935.85 844.87L928.95 851.17" fill="none" stroke="#e6e6e6" stroke-width="2.5" stroke-linecap="round" stroke-linejoin="round"/><path d="M650.15 870.64A10.45 10.45 0 1 0 663.40 884.91A10.5 10.5 0 0 1 650.15 870.64Z" fill="none" stroke="#a871a8" stroke-width="1.75" stroke-linejoin="round"/><path d="M928.95 875.30L935.85 881.60L928.95 887.90" fill="none" stroke="#e6e6e6" stroke-width="2.5" stroke-linecap="round" stroke-linejoin="round"/><rect x="636.70" y="907.85" width="301.85" height="1.9" rx="0.9" fill="#3e3e3e"/><circle cx="646.15" cy="936.70" r="5.35" fill="none" stroke="#e6e6e6" stroke-width="1.6"/><circle cx="661.75" cy="936.70" r="6.1" fill="#e6e6e6"/><path d="M928.95 930.40L935.85 936.70L928.95 943.00" fill="none" stroke="#e6e6e6" stroke-width="2.5" stroke-linecap="round" stroke-linejoin="round"/><rect x="636.70" y="962.94" width="301.85" height="1.9" rx="0.9" fill="#3e3e3e"/><path d="M928.95 985.49L935.85 991.79L928.95 998.09" fill="none" stroke="#e6e6e6" stroke-width="2.5" stroke-linecap="round" stroke-linejoin="round"/><rect x="636.70" y="1018.04" width="301.85" height="1.9" rx="0.9" fill="#3e3e3e"/><rect x="636.70" y="1146.59" width="301.85" height="1.9" rx="0.9" fill="#3e3e3e"/></svg>
<div class="t" style="left:636.40px;top:263.00px;color:#e6e6e6;letter-spacing:-0.113px">Refresh</div>
<div class="t" style="left:924.40px;top:263.00px;color:#595959;transform:scaleX(0.85);transform-origin:0 0">R</div>
<div class="t" style="left:636.40px;top:300.00px;color:#e6e6e6;letter-spacing:0.003px">Little Elm, TX</div>
<div class="t" style="left:680.23px;top:355.00px;color:#e6e6e6;letter-spacing:0.306px">47<span class="d">°</span><span class="f">F</span> – 10 AM</div>
<div class="t" style="left:680.23px;top:392.00px;color:#e6e6e6;letter-spacing:0.306px">48<span class="d">°</span><span class="f">F</span> – 11 AM</div>
<div class="t" style="left:679.85px;top:428.00px;color:#e6e6e6;letter-spacing:0.259px">50<span class="d">°</span><span class="f">F</span> – 12 PM</div>
<div class="t" style="left:679.85px;top:465.00px;color:#e6e6e6;letter-spacing:0.207px">53<span class="d">°</span><span class="f">F</span> – 1 PM</div>
<div class="t" style="left:679.85px;top:502.00px;color:#e6e6e6;letter-spacing:0.207px">57<span class="d">°</span><span class="f">F</span> – 2 PM</div>
<div class="t" style="left:679.61px;top:538.00px;color:#e6e6e6;letter-spacing:0.231px">60<span class="d">°</span><span class="f">F</span> – 3 PM</div>
<div class="t" style="left:679.61px;top:575.00px;color:#e6e6e6;letter-spacing:0.231px">60<span class="d">°</span><span class="f">F</span> – 4 PM</div>
<div class="t" style="left:679.85px;top:612.00px;color:#e6e6e6;letter-spacing:0.207px">55<span class="d">°</span><span class="f">F</span> – 5 PM</div>
<div class="t" style="left:680.03px;top:649.00px;color:#5c5c5c;letter-spacing:0.087px">Sunset – 5:29 PM</div>
<div class="t" style="left:679.85px;top:685.00px;color:#e6e6e6;letter-spacing:0.207px">52<span class="d">°</span><span class="f">F</span> – 6 PM</div>
<div class="t" style="left:679.85px;top:722.00px;color:#e6e6e6;letter-spacing:0.207px">51<span class="d">°</span><span class="f">F</span> – 7 PM</div>
<div class="t" style="left:679.85px;top:759.00px;color:#e6e6e6;letter-spacing:0.207px">50<span class="d">°</span><span class="f">F</span> – 8 PM</div>
<div class="t" style="left:679.85px;top:796.00px;color:#e6e6e6;letter-spacing:0.207px">50<span class="d">°</span><span class="f">F</span> – 9 PM</div>
<div class="t" style="left:680.23px;top:832.00px;color:#e6e6e6;letter-spacing:0.197px">49<span class="d">°</span><span class="f">F</span> – 10 PM</div>
<div class="t" style="left:680.23px;top:869.00px;color:#e6e6e6;letter-spacing:0.197px">48<span class="d">°</span><span class="f">F</span> – 11 PM</div>
<div class="t" style="left:680.49px;top:924.00px;color:#e6e6e6;letter-spacing:-0.252px">Tomorrow</div>
<div class="t" style="left:636.93px;top:979.00px;color:#e6e6e6;letter-spacing:0.291px">Settings</div>
<div class="t" style="left:637.51px;top:1034.00px;color:#e6e6e6;letter-spacing:0.102px">About</div>
<div class="t" style="left:636.40px;top:1071.00px;color:#e6e6e6;letter-spacing:-0.085px">Feedback</div>
<div class="t" style="left:636.40px;top:1108.00px;color:#e6e6e6;letter-spacing:-0.413px">Help &amp; FAQ</div>
</div>
<div class="p dark" style="width:1080px">
<svg width="1080" height="1262" viewBox="0 0 1080 1262"><path d="M746.80 296.30A11.85 11.85 0 0 0 731.95 307.80V1206.60H734.00V305.00A9.0 9.0 0 0 1 743.80 296Z" fill="#000"/><rect x="734.00" y="307.00" width="1.4" height="896.60" fill="#1c1c1c"/><path d="M743.80 296H1071.50A8.5 8.5 0 0 1 1080.00 304.5V1211.60H741.30A6.5 6.5 0 0 1 734.80 1205.10V305.0A9.0 9.0 0 0 1 743.80 296Z" fill="#474747"/><path d="M743.70 298.0H1073.00A7.0 7.0 0 0 1 1080.00 304.50V1212.60H741.30V1211.60A5.0 5.0 0 0 1 736.30 1206.60V305.4A7.4 7.4 0 0 1 743.70 298.0Z" fill="#1c1c1c"/><path d="M1028.55 320.80H1033.25V325.50H1028.55ZM1028.55 320.80H1026.15A2.4 2.4 0 1 1 1028.55 318.40ZM1033.25 320.80V318.40A2.4 2.4 0 1 1 1035.65 320.80ZM1033.25 325.50H1035.65A2.4 2.4 0 1 1 1033.25 327.90ZM1028.55 325.50V327.90A2.4 2.4 0 1 1 1026.15 325.50Z" fill="none" stroke="#595959" stroke-width="1.7" stroke-linejoin="round"/><path d="M1050.95 353.99L1057.85 360.29L1050.95 366.59" fill="none" stroke="#e6e6e6" stroke-width="2.5" stroke-linecap="round" stroke-linejoin="round"/><rect x="758.70" y="386.53" width="301.85" height="1.9" rx="0.9" fill="#3e3e3e"/><circle cx="775.10" cy="415.08" r="4.55" fill="none" stroke="#f2f2f2" stroke-width="1.95"/><path d="M783.40 415.08L785.85 415.08M780.97 420.95L782.70 422.68M775.10 423.38L775.10 425.83M769.23 420.95L767.50 422.68M766.80 415.08L764.35 415.08M769.23 409.21L767.50 407.48M775.10 406.78L775.10 404.33M780.97 409.21L782.70 407.48" stroke="#f2f2f2" stroke-width="1.95" stroke-linecap="round" fill="none"/><path d="M1050.95 409.08L1057.85 415.38L1050.95 421.68" fill="none" stroke="#e6e6e6" stroke-width="2.5" stroke-linecap="round" stroke-linejoin="round"/><circle cx="775.10" cy="451.81" r="4.55" fill="none" stroke="#f2f2f2" stroke-width="1.95"/><path d="M783.40 451.81L785.85 451.81M780.97 457.68L782.70 459.41M775.10 460.11L775.10 462.56M769.23 457.68L767.50 459.41M766.80 451.81L764.35 451.81M769.23 445.94L767.50 444.21M775.10 443.51L775.10 441.06M780.97 445.94L782.70 444.21" stroke="#f2f2f2" stroke-width="1.95" stroke-linecap="round" fill="none"/><path d="M1050.95 445.81L1057.85 452.11L1050.95 458.41" fill="none" stroke="#e6e6e6" stroke-width="2.5" stroke-linecap="round" stroke-linejoin="round"/><circle cx="775.10" cy="488.54" r="4.55" fill="none" stroke="#f2f2f2" stroke-width="1.95"/><path d="M783.40 488.54L785.85 488.54M780.97 494.41L782.70 496.14M775.10 496.84L775.10 499.29M769.23 494.41L767.50 496.14M766.80 488.54L764.35 488.54M769.23 482.67L767.50 480.94M775.10 480.24L775.10 477.79M780.97 482.67L782.70 480.94" stroke="#f2f2f2" stroke-width="1.95" stroke-linecap="round" fill="none"/><path d="M1050.95 482.54L1057.85 488.84L1050.95 495.14" fill="none" stroke="#e6e6e6" stroke-width="2.5" stroke-linecap="round" stroke-linejoin="round"/><circle cx="775.10" cy="525.27" r="4.55" fill="none" stroke="#f2f2f2" stroke-width="1.95"/><path d="M783.40 525.27L785.85 525.27M780.97 531.14L782.70 532.87M775.10 533.57L775.10 536.02M769.23 531.14L767.50 532.87M766.80 525.27L764.35 525.27M769.23 519.40L767.50 517.67M775.10 516.97L775.10 514.52M780.97 519.40L782.70 517.67" stroke="#f2f2f2" stroke-width="1.95" stroke-linecap="round" fill="none"/><path d="M1050.95 519.27L1057.85 525.57L1050.95 531.87" fill="none" stroke="#e6e6e6" stroke-width="2.5" stroke-linecap="round" stroke-linejoin="round"/><circle cx="775.10" cy="562.00" r="4.55" fill="none" stroke="#f2f2f2" stroke-width="1.95"/><path d="M783.40 562.00L785.85 562.00M780.97 567.87L782.70 569.60M775.10 570.30L775.10 572.75M769.23 567.87L767.50 569.60M766.80 562.00L764.35 562.00M769.23 556.13L767.50 554.40M775.10 553.70L775.10 551.25M780.97 556.13L782.70 554.40" stroke="#f2f2f2" stroke-width="1.95" stroke-linecap="round" fill="none"/><path d="M1050.95 556.00L1057.85 562.30L1050.95 568.60" fill="none" stroke="#e6e6e6" stroke-width="2.5" stroke-linecap="round" stroke-linejoin="round"/><circle cx="775.10" cy="598.73" r="4.55" fill="none" stroke="#f2f2f2" stroke-width="1.95"/><path d="M783.40 598.73L785.85 598.73M780.97 604.60L782.70 606.33M775.10 607.03L775.10 609.48M769.23 604.60L767.50 606.33M766.80 598.73L764.35 598.73M769.23 592.86L767.50 591.13M775.10 590.43L775.10 587.98M780.97 592.86L782.70 591.13" stroke="#f2f2f2" stroke-width="1.95" stroke-linecap="round" fill="none"/><path d="M1050.95 592.73L1057.85 599.03L1050.95 605.33" fill="none" stroke="#e6e6e6" stroke-width="2.5" stroke-linecap="round" stroke-linejoin="round"/><circle cx="775.10" cy="635.46" r="4.55" fill="none" stroke="#f2f2f2" stroke-width="1.95"/><path d="M783.40 635.46L785.85 635.46M780.97 641.33L782.70 643.06M775.10 643.76L775.10 646.21M769.23 641.33L767.50 643.06M766.80 635.46L764.35 635.46M769.23 629.59L767.50 627.86M775.10 627.16L775.10 624.71M780.97 629.59L782.70 627.86" stroke="#f2f2f2" stroke-width="1.95" stroke-linecap="round" fill="none"/><path d="M1050.95 629.46L1057.85 635.76L1050.95 642.06" fill="none" stroke="#e6e6e6" stroke-width="2.5" stroke-linecap="round" stroke-linejoin="round"/><circle cx="775.10" cy="672.19" r="4.55" fill="none" stroke="#f2f2f2" stroke-width="1.95"/><path d="M783.40 672.19L785.85 672.19M780.97 678.06L782.70 679.79M775.10 680.49L775.10 682.94M769.23 678.06L767.50 679.79M766.80 672.19L764.35 672.19M769.23 666.32L767.50 664.59M775.10 663.89L775.10 661.44M780.97 666.32L782.70 664.59" stroke="#f2f2f2" stroke-width="1.95" stroke-linecap="round" fill="none"/><path d="M1050.95 666.19L1057.85 672.49L1050.95 678.79" fill="none" stroke="#e6e6e6" stroke-width="2.5" stroke-linecap="round" stroke-linejoin="round"/><path d="M761.00 719.52H787.30" stroke="#5c5c5c" stroke-width="1.3" stroke-linecap="round"/><path d="M772.22 719.52A5.0 5.0 0 1 1 776.58 719.52" fill="none" stroke="#5c5c5c" stroke-width="1.5"/><path d="M762.80 714.92H766.00M782.80 714.92H786.00M766.00 706.82L768.50 709.32M782.80 706.82L780.30 709.32M774.40 698.62V705.72M770.80 702.12L774.40 705.72L778.00 702.12" fill="none" stroke="#5c5c5c" stroke-width="1.5" stroke-linecap="round" stroke-linejoin="round"/><path d="M772.15 734.99A10.45 10.45 0 1 0 785.40 749.26A10.5 10.5 0 0 1 772.15 734.99Z" fill="none" stroke="#f2f2f2" stroke-width="1.75" stroke-linejoin="round"/><path d="M1050.95 739.65L1057.85 745.95L1050.95 752.25" fill="none" stroke="#e6e6e6" stroke-width="2.5" stroke-linecap="round" stroke-linejoin="round"/><path d="M772.15 771.72A10.45 10.45 0 1 0 785.40 785.99A10.5 10.5 0 0 1 772.15 771.72Z" fill="none" stroke="#f2f2f2" stroke-width="1.75" stroke-linejoin="round"/><path d="M1050.95 776.38L1057.85 782.68L1050.95 788.98" fill="none" stroke="#e6e6e6" stroke-width="2.5" stroke-linecap="round" stroke-linejoin="round"/><path d="M772.15 808.45A10.45 10.45 0 1 0 785.40 822.72A10.5 10.5 0 0 1 772.15 808.45Z" fill="none" stroke="#f2f2f2" stroke-width="1.75" stroke-linejoin="round"/><path d="M1050.95 813.11L1057.85 819.41L1050.95 825.71" fill="none" stroke="#e6e6e6" stroke-width="2.5" stroke-linecap="round" stroke-linejoin="round"/><path d="M772.15 845.18A10.45 10.45 0 1 0 785.40 859.45A10.5 10.5 0 0 1 772.15 845.18Z" fill="none" stroke="#f2f2f2" stroke-width="1.75" stroke-linejoin="round"/><path d="M1050.95 849.84L1057.85 856.14L1050.95 862.44" fill="none" stroke="#e6e6e6" stroke-width="2.5" stroke-linecap="round" stroke-linejoin="round"/><path d="M772.15 881.91A10.45 10.45 0 1 0 785.40 896.18A10.5 10.5 0 0 1 772.15 881.91Z" fill="none" stroke="#f2f2f2" stroke-width="1.75" stroke-linejoin="round"/><path d="M1050.95 886.57L1057.85 892.87L1050.95 899.17" fill="none" stroke="#e6e6e6" stroke-width="2.5" stroke-linecap="round" stroke-linejoin="round"/><path d="M772.15 918.64A10.45 10.45 0 1 0 785.40 932.91A10.5 10.5 0 0 1 772.15 918.64Z" fill="none" stroke="#f2f2f2" stroke-width="1.75" stroke-linejoin="round"/><path d="M1050.95 923.30L1057.85 929.60L1050.95 935.90" fill="none" stroke="#e6e6e6" stroke-width="2.5" stroke-linecap="round" stroke-linejoin="round"/><rect x="758.70" y="955.85" width="301.85" height="1.9" rx="0.9" fill="#3e3e3e"/><circle cx="768.15" cy="984.70" r="5.35" fill="none" stroke="#e6e6e6" stroke-width="1.6"/><circle cx="783.75" cy="984.70" r="6.1" fill="#e6e6e6"/><path d="M1050.95 978.40L1057.85 984.70L1050.95 991.00" fill="none" stroke="#e6e6e6" stroke-width="2.5" stroke-linecap="round" stroke-linejoin="round"/><rect x="758.70" y="1010.94" width="301.85" height="1.9" rx="0.9" fill="#3e3e3e"/><path d="M1050.95 1033.49L1057.85 1039.79L1050.95 1046.09" fill="none" stroke="#e6e6e6" stroke-width="2.5" stroke-linecap="round" stroke-linejoin="round"/><rect x="758.70" y="1066.04" width="301.85" height="1.9" rx="0.9" fill="#3e3e3e"/><rect x="758.70" y="1194.59" width="301.85" height="1.9" rx="0.9" fill="#3e3e3e"/></svg>
<div class="t" style="left:758.40px;top:311.00px;color:#e6e6e6;letter-spacing:-0.113px">Refresh</div>
<div class="t" style="left:1046.40px;top:311.00px;color:#595959;transform:scaleX(0.85);transform-origin:0 0">R</div>
<div class="t" style="left:758.40px;top:348.00px;color:#e6e6e6;letter-spacing:0.003px">Little Elm, TX</div>
<div class="t" style="left:802.23px;top:403.00px;color:#e6e6e6;letter-spacing:0.306px">47<span class="d">°</span><span class="f">F</span> – 10 AM</div>
<div class="t" style="left:802.23px;top:440.00px;color:#e6e6e6;letter-spacing:0.306px">48<span class="d">°</span><span class="f">F</span> – 11 AM</div>
<div class="t" style="left:801.85px;top:476.00px;color:#e6e6e6;letter-spacing:0.259px">50<span class="d">°</span><span class="f">F</span> – 12 PM</div>
<div class="t" style="left:801.85px;top:513.00px;color:#e6e6e6;letter-spacing:0.207px">53<span class="d">°</span><span class="f">F</span> – 1 PM</div>
<div class="t" style="left:801.85px;top:550.00px;color:#e6e6e6;letter-spacing:0.207px">57<span class="d">°</span><span class="f">F</span> – 2 PM</div>
<div class="t" style="left:801.61px;top:586.00px;color:#e6e6e6;letter-spacing:0.231px">60<span class="d">°</span><span class="f">F</span> – 3 PM</div>
<div class="t" style="left:801.61px;top:623.00px;color:#e6e6e6;letter-spacing:0.231px">60<span class="d">°</span><span class="f">F</span> – 4 PM</div>
<div class="t" style="left:801.85px;top:660.00px;color:#e6e6e6;letter-spacing:0.207px">55<span class="d">°</span><span class="f">F</span> – 5 PM</div>
<div class="t" style="left:802.03px;top:697.00px;color:#5c5c5c;letter-spacing:0.087px">Sunset – 5:29 PM</div>
<div class="t" style="left:801.85px;top:733.00px;color:#e6e6e6;letter-spacing:0.207px">52<span class="d">°</span><span class="f">F</span> – 6 PM</div>
<div class="t" style="left:801.85px;top:770.00px;color:#e6e6e6;letter-spacing:0.207px">51<span class="d">°</span><span class="f">F</span> – 7 PM</div>
<div class="t" style="left:801.85px;top:807.00px;color:#e6e6e6;letter-spacing:0.207px">50<span class="d">°</span><span class="f">F</span> – 8 PM</div>
<div class="t" style="left:801.85px;top:844.00px;color:#e6e6e6;letter-spacing:0.207px">50<span class="d">°</span><span class="f">F</span> – 9 PM</div>
<div class="t" style="left:802.23px;top:880.00px;color:#e6e6e6;letter-spacing:0.197px">49<span class="d">°</span><span class="f">F</span> – 10 PM</div>
<div class="t" style="left:802.23px;top:917.00px;color:#e6e6e6;letter-spacing:0.197px">48<span class="d">°</span><span class="f">F</span> – 11 PM</div>
<div class="t" style="left:802.49px;top:972.00px;color:#e6e6e6;letter-spacing:-0.252px">Tomorrow</div>
<div class="t" style="left:758.93px;top:1027.00px;color:#e6e6e6;letter-spacing:0.291px">Settings</div>
<div class="t" style="left:759.51px;top:1082.00px;color:#e6e6e6;letter-spacing:0.102px">About</div>
<div class="t" style="left:758.40px;top:1119.00px;color:#e6e6e6;letter-spacing:-0.085px">Feedback</div>
<div class="t" style="left:758.40px;top:1156.00px;color:#e6e6e6;letter-spacing:-0.413px">Help &amp; FAQ</div>
</div>
<div class="p light" style="width:1202px">
<svg width="1202" height="1262" viewBox="0 0 1202 1262"><path d="M863.2 346H1193A9 9 0 0 1 1202 355V1253A9 9 0 0 1 1193 1262H863.2A9 9 0 0 1 854.2 1253V355A9 9 0 0 1 863.2 346Z" fill="#dedfe1"/><path d="M1201.5 355V1253" stroke="#b2b2b5" stroke-width="1.1"/><path d="M1145.80 370.80H1150.50V375.50H1145.80ZM1145.80 370.80H1143.40A2.4 2.4 0 1 1 1145.80 368.40ZM1150.50 370.80V368.40A2.4 2.4 0 1 1 1152.90 370.80ZM1150.50 375.50H1152.90A2.4 2.4 0 1 1 1150.50 377.90ZM1145.80 375.50V377.90A2.4 2.4 0 1 1 1143.40 375.50Z" fill="none" stroke="#a8a8aa" stroke-width="1.7" stroke-linejoin="round"/><path d="M1168.20 403.99L1175.10 410.29L1168.20 416.59" fill="none" stroke="#222222" stroke-width="2.5" stroke-linecap="round" stroke-linejoin="round"/><rect x="875.95" y="436.53" width="301.85" height="1.9" rx="0.9" fill="#c5c5c8"/><circle cx="892.35" cy="465.08" r="4.55" fill="none" stroke="#101010" stroke-width="1.7"/><path d="M900.65 465.08L903.10 465.08M898.22 470.95L899.95 472.68M892.35 473.38L892.35 475.83M886.48 470.95L884.75 472.68M884.05 465.08L881.60 465.08M886.48 459.21L884.75 457.48M892.35 456.78L892.35 454.33M898.22 459.21L899.95 457.48" stroke="#101010" stroke-width="1.7" stroke-linecap="round" fill="none"/><path d="M1168.20 459.08L1175.10 465.38L1168.20 471.68" fill="none" stroke="#222222" stroke-width="2.5" stroke-linecap="round" stroke-linejoin="round"/><circle cx="892.35" cy="501.81" r="4.55" fill="none" stroke="#101010" stroke-width="1.7"/><path d="M900.65 501.81L903.10 501.81M898.22 507.68L899.95 509.41M892.35 510.11L892.35 512.56M886.48 507.68L884.75 509.41M884.05 501.81L881.60 501.81M886.48 495.94L884.75 494.21M892.35 493.51L892.35 491.06M898.22 495.94L899.95 494.21" stroke="#101010" stroke-width="1.7" stroke-linecap="round" fill="none"/><path d="M1168.20 495.81L1175.10 502.11L1168.20 508.41" fill="none" stroke="#222222" stroke-width="2.5" stroke-linecap="round" stroke-linejoin="round"/><circle cx="892.35" cy="538.54" r="4.55" fill="none" stroke="#101010" stroke-width="1.7"/><path d="M900.65 538.54L903.10 538.54M898.22 544.41L899.95 546.14M892.35 546.84L892.35 549.29M886.48 544.41L884.75 546.14M884.05 538.54L881.60 538.54M886.48 532.67L884.75 530.94M892.35 530.24L892.35 527.79M898.22 532.67L899.95 530.94" stroke="#101010" stroke-width="1.7" stroke-linecap="round" fill="none"/><path d="M1168.20 532.54L1175.10 538.84L1168.20 545.14" fill="none" stroke="#222222" stroke-width="2.5" stroke-linecap="round" stroke-linejoin="round"/><circle cx="892.35" cy="575.27" r="4.55" fill="none" stroke="#101010" stroke-width="1.7"/><path d="M900.65 575.27L903.10 575.27M898.22 581.14L899.95 582.87M892.35 583.57L892.35 586.02M886.48 581.14L884.75 582.87M884.05 575.27L881.60 575.27M886.48 569.40L884.75 567.67M892.35 566.97L892.35 564.52M898.22 569.40L899.95 567.67" stroke="#101010" stroke-width="1.7" stroke-linecap="round" fill="none"/><path d="M1168.20 569.27L1175.10 575.57L1168.20 581.87" fill="none" stroke="#222222" stroke-width="2.5" stroke-linecap="round" stroke-linejoin="round"/><circle cx="892.35" cy="612.00" r="4.55" fill="none" stroke="#101010" stroke-width="1.7"/><path d="M900.65 612.00L903.10 612.00M898.22 617.87L899.95 619.60M892.35 620.30L892.35 622.75M886.48 617.87L884.75 619.60M884.05 612.00L881.60 612.00M886.48 606.13L884.75 604.40M892.35 603.70L892.35 601.25M898.22 606.13L899.95 604.40" stroke="#101010" stroke-width="1.7" stroke-linecap="round" fill="none"/><path d="M1168.20 606.00L1175.10 612.30L1168.20 618.60" fill="none" stroke="#222222" stroke-width="2.5" stroke-linecap="round" stroke-linejoin="round"/><circle cx="892.35" cy="648.73" r="4.55" fill="none" stroke="#101010" stroke-width="1.7"/><path d="M900.65 648.73L903.10 648.73M898.22 654.60L899.95 656.33M892.35 657.03L892.35 659.48M886.48 654.60L884.75 656.33M884.05 648.73L881.60 648.73M886.48 642.86L884.75 641.13M892.35 640.43L892.35 637.98M898.22 642.86L899.95 641.13" stroke="#101010" stroke-width="1.7" stroke-linecap="round" fill="none"/><path d="M1168.20 642.73L1175.10 649.03L1168.20 655.33" fill="none" stroke="#222222" stroke-width="2.5" stroke-linecap="round" stroke-linejoin="round"/><circle cx="892.35" cy="685.46" r="4.55" fill="none" stroke="#101010" stroke-width="1.7"/><path d="M900.65 685.46L903.10 685.46M898.22 691.33L899.95 693.06M892.35 693.76L892.35 696.21M886.48 691.33L884.75 693.06M884.05 685.46L881.60 685.46M886.48 679.59L884.75 677.86M892.35 677.16L892.35 674.71M898.22 679.59L899.95 677.86" stroke="#101010" stroke-width="1.7" stroke-linecap="round" fill="none"/><path d="M1168.20 679.46L1175.10 685.76L1168.20 692.06" fill="none" stroke="#222222" stroke-width="2.5" stroke-linecap="round" stroke-linejoin="round"/><circle cx="892.35" cy="722.19" r="4.55" fill="none" stroke="#101010" stroke-width="1.7"/><path d="M900.65 722.19L903.10 722.19M898.22 728.06L899.95 729.79M892.35 730.49L892.35 732.94M886.48 728.06L884.75 729.79M884.05 722.19L881.60 722.19M886.48 716.32L884.75 714.59M892.35 713.89L892.35 711.44M898.22 716.32L899.95 714.59" stroke="#101010" stroke-width="1.7" stroke-linecap="round" fill="none"/><path d="M1168.20 716.19L1175.10 722.49L1168.20 728.79" fill="none" stroke="#222222" stroke-width="2.5" stroke-linecap="round" stroke-linejoin="round"/><path d="M878.25 769.52H904.55" stroke="#a0a0a3" stroke-width="1.3" stroke-linecap="round"/><path d="M889.47 769.52A5.0 5.0 0 1 1 893.83 769.52" fill="none" stroke="#a0a0a3" stroke-width="1.5"/><path d="M880.05 764.92H883.25M900.05 764.92H903.25M883.25 756.82L885.75 759.32M900.05 756.82L897.55 759.32M891.65 748.62V755.72M888.05 752.12L891.65 755.72L895.25 752.12" fill="none" stroke="#a0a0a3" stroke-width="1.5" stroke-linecap="round" stroke-linejoin="round"/><path d="M889.40 784.99A10.45 10.45 0 1 0 902.65 799.26A10.5 10.5 0 0 1 889.40 784.99Z" fill="none" stroke="#101010" stroke-width="1.75" stroke-linejoin="round"/><path d="M1168.20 789.65L1175.10 795.95L1168.20 802.25" fill="none" stroke="#222222" stroke-width="2.5" stroke-linecap="round" stroke-linejoin="round"/><path d="M889.40 821.72A10.45 10.45 0 1 0 902.65 835.99A10.5 10.5 0 0 1 889.40 821.72Z" fill="none" stroke="#101010" stroke-width="1.75" stroke-linejoin="round"/><path d="M1168.20 826.38L1175.10 832.68L1168.20 838.98" fill="none" stroke="#222222" stroke-width="2.5" stroke-linecap="round" stroke-linejoin="round"/><path d="M889.40 858.45A10.45 10.45 0 1 0 902.65 872.72A10.5 10.5 0 0 1 889.40 858.45Z" fill="none" stroke="#101010" stroke-width="1.75" stroke-linejoin="round"/><path d="M1168.20 863.11L1175.10 869.41L1168.20 875.71" fill="none" stroke="#222222" stroke-width="2.5" stroke-linecap="round" stroke-linejoin="round"/><path d="M889.40 895.18A10.45 10.45 0 1 0 902.65 909.45A10.5 10.5 0 0 1 889.40 895.18Z" fill="none" stroke="#101010" stroke-width="1.75" stroke-linejoin="round"/><path d="M1168.20 899.84L1175.10 906.14L1168.20 912.44" fill="none" stroke="#222222" stroke-width="2.5" stroke-linecap="round" stroke-linejoin="round"/><path d="M889.40 931.91A10.45 10.45 0 1 0 902.65 946.18A10.5 10.5 0 0 1 889.40 931.91Z" fill="none" stroke="#101010" stroke-width="1.75" stroke-linejoin="round"/><path d="M1168.20 936.57L1175.10 942.87L1168.20 949.17" fill="none" stroke="#222222" stroke-width="2.5" stroke-linecap="round" stroke-linejoin="round"/><path d="M889.40 968.64A10.45 10.45 0 1 0 902.65 982.91A10.5 10.5 0 0 1 889.40 968.64Z" fill="none" stroke="#101010" stroke-width="1.75" stroke-linejoin="round"/><path d="M1168.20 973.30L1175.10 979.60L1168.20 985.90" fill="none" stroke="#222222" stroke-width="2.5" stroke-linecap="round" stroke-linejoin="round"/><rect x="875.95" y="1005.85" width="301.85" height="1.9" rx="0.9" fill="#c5c5c8"/><circle cx="885.40" cy="1034.70" r="5.35" fill="none" stroke="#222" stroke-width="1.6"/><circle cx="901.00" cy="1034.70" r="6.1" fill="#222"/><path d="M1168.20 1028.40L1175.10 1034.70L1168.20 1041.00" fill="none" stroke="#222222" stroke-width="2.5" stroke-linecap="round" stroke-linejoin="round"/><rect x="875.95" y="1060.94" width="301.85" height="1.9" rx="0.9" fill="#c5c5c8"/><path d="M1168.20 1083.49L1175.10 1089.79L1168.20 1096.09" fill="none" stroke="#222222" stroke-width="2.5" stroke-linecap="round" stroke-linejoin="round"/><rect x="875.95" y="1116.04" width="301.85" height="1.9" rx="0.9" fill="#c5c5c8"/><rect x="875.95" y="1244.59" width="301.85" height="1.9" rx="0.9" fill="#c5c5c8"/></svg>
<div class="t" style="left:875.65px;top:361.00px;color:#262626;letter-spacing:-0.113px">Refresh</div>
<div class="t" style="left:1163.65px;top:361.00px;color:#a8a8aa;transform:scaleX(0.85);transform-origin:0 0">R</div>
<div class="t" style="left:875.65px;top:398.00px;color:#262626;letter-spacing:0.003px">Little Elm, TX</div>
<div class="t" style="left:919.48px;top:453.00px;color:#262626;letter-spacing:0.306px">47<span class="d">°</span><span class="f">F</span> – 10 AM</div>
<div class="t" style="left:919.48px;top:490.00px;color:#262626;letter-spacing:0.306px">48<span class="d">°</span><span class="f">F</span> – 11 AM</div>
<div class="t" style="left:919.10px;top:526.00px;color:#262626;letter-spacing:0.259px">50<span class="d">°</span><span class="f">F</span> – 12 PM</div>
<div class="t" style="left:919.10px;top:563.00px;color:#262626;letter-spacing:0.207px">53<span class="d">°</span><span class="f">F</span> – 1 PM</div>
<div class="t" style="left:919.10px;top:600.00px;color:#262626;letter-spacing:0.207px">57<span class="d">°</span><span class="f">F</span> – 2 PM</div>
<div class="t" style="left:918.86px;top:636.00px;color:#262626;letter-spacing:0.231px">60<span class="d">°</span><span class="f">F</span> – 3 PM</div>
<div class="t" style="left:918.86px;top:673.00px;color:#262626;letter-spacing:0.231px">60<span class="d">°</span><span class="f">F</span> – 4 PM</div>
<div class="t" style="left:919.10px;top:710.00px;color:#262626;letter-spacing:0.207px">55<span class="d">°</span><span class="f">F</span> – 5 PM</div>
<div class="t" style="left:919.28px;top:747.00px;color:#a0a0a3;letter-spacing:0.087px">Sunset – 5:29 PM</div>
<div class="t" style="left:919.10px;top:783.00px;color:#262626;letter-spacing:0.207px">52<span class="d">°</span><span class="f">F</span> – 6 PM</div>
<div class="t" style="left:919.10px;top:820.00px;color:#262626;letter-spacing:0.207px">51<span class="d">°</span><span class="f">F</span> – 7 PM</div>
<div class="t" style="left:919.10px;top:857.00px;color:#262626;letter-spacing:0.207px">50<span class="d">°</span><span class="f">F</span> – 8 PM</div>
<div class="t" style="left:919.10px;top:894.00px;color:#262626;letter-spacing:0.207px">50<span class="d">°</span><span class="f">F</span> – 9 PM</div>
<div class="t" style="left:919.48px;top:930.00px;color:#262626;letter-spacing:0.197px">49<span class="d">°</span><span class="f">F</span> – 10 PM</div>
<div class="t" style="left:919.48px;top:967.00px;color:#262626;letter-spacing:0.197px">48<span class="d">°</span><span class="f">F</span> – 11 PM</div>
<div class="t" style="left:919.74px;top:1022.00px;color:#262626;letter-spacing:-0.252px">Tomorrow</div>
<div class="t" style="left:876.18px;top:1077.00px;color:#262626;letter-spacing:0.291px">Settings</div>
<div class="t" style="left:876.76px;top:1132.00px;color:#262626;letter-spacing:0.102px">About</div>
<div class="t" style="left:875.65px;top:1169.00px;color:#262626;letter-spacing:-0.085px">Feedback</div>
<div class="t" style="left:875.65px;top:1206.00px;color:#262626;letter-spacing:-0.413px">Help &amp; FAQ</div>
</div>
</body></html>
